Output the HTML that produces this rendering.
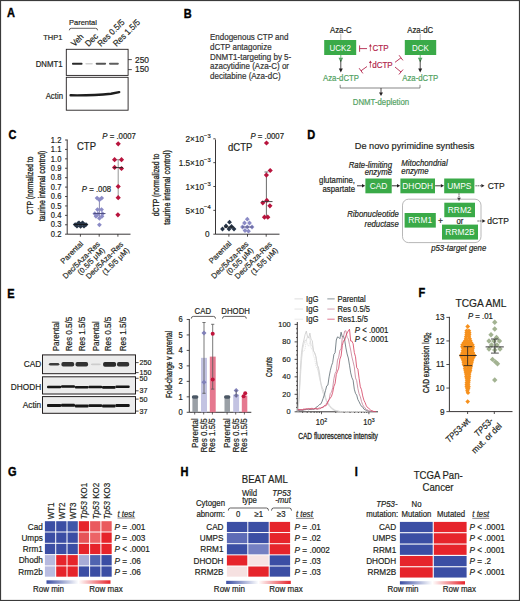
<!DOCTYPE html>
<html><head><meta charset="utf-8"><style>
html,body{margin:0;padding:0;background:#fff;}
body{width:520px;height:601px;overflow:hidden;}
svg{display:block;font-family:"Liberation Sans", sans-serif;}
</style></head><body>
<svg width="520" height="601" viewBox="0 0 520 601">
<rect x="0" y="0" width="520" height="601" fill="#fff"/>
<text x="0.00" y="0.00" font-size="11" text-anchor="start" fill="#000" stroke="#000" stroke-width="0.35" font-weight="bold" transform="translate(7.00,16.70) scale(1,1.08)">A</text>
<text x="0.00" y="0.00" font-size="7.5" text-anchor="start" fill="#231f20" stroke="#231f20" stroke-width="0.18" transform="translate(43.20,39.90) scale(1,1.08)">THP1</text>
<text x="0.00" y="0.00" font-size="7.5" text-anchor="start" fill="#231f20" stroke="#231f20" stroke-width="0.18" transform="translate(69.00,25.10) scale(1,1.08)">Parental</text>
<path d="M69.3,30.3 Q69.3,28.3 71.3,28.3 L95.6,28.3 Q97.6,28.3 97.6,30.3" fill="none" stroke="#231f20" stroke-width="0.7"/>
<text x="0.00" y="0.00" font-size="8" text-anchor="start" fill="#231f20" stroke="#231f20" stroke-width="0.18" transform="translate(74.50,47.00) rotate(-45) scale(1,1.08)">Veh</text>
<text x="0.00" y="0.00" font-size="8" text-anchor="start" fill="#231f20" stroke="#231f20" stroke-width="0.18" transform="translate(88.50,47.00) rotate(-45) scale(1,1.08)">Dec</text>
<text x="0.00" y="0.00" font-size="8" text-anchor="start" fill="#231f20" stroke="#231f20" stroke-width="0.18" transform="translate(101.00,47.00) rotate(-45) scale(1,1.08)">Res 0.5/5</text>
<text x="0.00" y="0.00" font-size="8" text-anchor="start" fill="#231f20" stroke="#231f20" stroke-width="0.18" transform="translate(116.50,47.00) rotate(-45) scale(1,1.08)">Res 1.5/5</text>
<rect x="66.30" y="49.30" width="61.80" height="26.10" fill="#fff" stroke="#231f20" stroke-width="0.9"/>
<rect x="66.30" y="77.30" width="61.80" height="32.90" fill="#fff" stroke="#231f20" stroke-width="0.9"/>
<text x="0.00" y="0.00" font-size="7.8" text-anchor="end" fill="#231f20" stroke="#231f20" stroke-width="0.18" transform="translate(62.50,67.00) scale(1,1.08)">DNMT1</text>
<text x="0.00" y="0.00" font-size="7.8" text-anchor="end" fill="#231f20" stroke="#231f20" stroke-width="0.18" transform="translate(63.00,98.50) scale(1,1.08)">Actin</text>
<rect x="72" y="62.7" width="10.5" height="2.0" rx="0.8" fill="#2a2a2a"/>
<rect x="85.3" y="62.900000000000006" width="7.5" height="1.6" rx="0.8" fill="#d2d2d2"/>
<rect x="95.7" y="62.75" width="10.399999999999991" height="1.9" rx="0.8" fill="#555"/>
<rect x="109" y="62.75" width="9.799999999999997" height="1.9" rx="0.8" fill="#5e5e5e"/>
<path d="M70.6,95.3 C85,95.5 100,94.9 111,93.8 L119.2,92.1" fill="none" stroke="#1e1e1e" stroke-width="2.4" stroke-linecap="round"/>
<line x1="128.20" y1="59.60" x2="131.80" y2="59.60" stroke="#231f20" stroke-width="0.8"/>
<text x="0.00" y="0.00" font-size="8.4" text-anchor="start" fill="#231f20" stroke="#231f20" stroke-width="0.18" transform="translate(135.00,62.50) scale(1,1.08)">250</text>
<line x1="128.20" y1="69.60" x2="131.80" y2="69.60" stroke="#231f20" stroke-width="0.8"/>
<text x="0.00" y="0.00" font-size="8.4" text-anchor="start" fill="#231f20" stroke="#231f20" stroke-width="0.18" transform="translate(135.00,72.40) scale(1,1.08)">150</text>
<text x="0.00" y="0.00" font-size="11" text-anchor="start" fill="#000" stroke="#000" stroke-width="0.35" font-weight="bold" transform="translate(183.80,18.00) scale(1,1.08)">B</text>
<text x="0.00" y="0.00" font-size="8" text-anchor="start" fill="#333" stroke="#333" stroke-width="0.18" transform="translate(210.00,40.40) scale(1,1.08)">Endogenous CTP and</text>
<text x="0.00" y="0.00" font-size="8" text-anchor="start" fill="#333" stroke="#333" stroke-width="0.18" transform="translate(210.00,50.00) scale(1,1.08)">dCTP antagonize</text>
<text x="0.00" y="0.00" font-size="8" text-anchor="start" fill="#333" stroke="#333" stroke-width="0.18" transform="translate(210.00,59.60) scale(1,1.08)">DNMT1-targeting by 5-</text>
<text x="0.00" y="0.00" font-size="8" text-anchor="start" fill="#333" stroke="#333" stroke-width="0.18" transform="translate(210.00,69.20) scale(1,1.08)">azacytidine (Aza-C) or</text>
<text x="0.00" y="0.00" font-size="8" text-anchor="start" fill="#333" stroke="#333" stroke-width="0.18" transform="translate(210.00,78.80) scale(1,1.08)">decitabine (Aza-dC)</text>
<text x="0.00" y="0.00" font-size="7.8" text-anchor="middle" fill="#231f20" stroke="#231f20" stroke-width="0.18" transform="translate(340.80,32.70) scale(1,1.08)">Aza-C</text>
<text x="0.00" y="0.00" font-size="7.8" text-anchor="middle" fill="#231f20" stroke="#231f20" stroke-width="0.18" transform="translate(420.20,32.70) scale(1,1.08)">Aza-dC</text>
<line x1="340.80" y1="34.00" x2="340.80" y2="40.00" stroke="#888" stroke-width="0.6"/>
<line x1="420.20" y1="34.00" x2="420.20" y2="40.00" stroke="#888" stroke-width="0.6"/>
<rect x="324.20" y="40.00" width="32.00" height="15.00" fill="#3aaa48" stroke="none" stroke-width="1"/>
<rect x="404.80" y="40.00" width="31.40" height="15.00" fill="#3aaa48" stroke="none" stroke-width="1"/>
<text x="0.00" y="0.00" font-size="8" text-anchor="middle" fill="#fff" transform="translate(340.20,50.80) scale(1,1.08)">UCK2</text>
<text x="0.00" y="0.00" font-size="8" text-anchor="middle" fill="#fff" transform="translate(420.50,50.80) scale(1,1.08)">DCK</text>
<line x1="340.80" y1="55.00" x2="340.80" y2="59.00" stroke="#52a262" stroke-width="0.8"/>
<path d="M338.5,57.8 L343.1,57.8 L340.8,62.6 Z" fill="#52a262" stroke="none" stroke-width="0.8"/>
<line x1="340.80" y1="60.00" x2="340.80" y2="70.00" stroke="#231f20" stroke-width="0.8"/>
<path d="M338.8,68.5 L342.8,68.5 L340.8,72.5 Z" fill="#231f20" stroke="none" stroke-width="0.8"/>
<line x1="420.20" y1="55.00" x2="420.20" y2="59.00" stroke="#52a262" stroke-width="0.8"/>
<path d="M417.9,57.8 L422.5,57.8 L420.2,62.6 Z" fill="#52a262" stroke="none" stroke-width="0.8"/>
<line x1="420.20" y1="60.00" x2="420.20" y2="70.00" stroke="#231f20" stroke-width="0.8"/>
<path d="M418.2,68.5 L422.2,68.5 L420.2,72.5 Z" fill="#231f20" stroke="none" stroke-width="0.8"/>
<text x="0.00" y="0.00" font-size="7.8" text-anchor="middle" fill="#52a262" stroke="#52a262" stroke-width="0.18" transform="translate(341.00,81.00) scale(1,1.08)">Aza-dCTP</text>
<text x="0.00" y="0.00" font-size="7.8" text-anchor="middle" fill="#52a262" stroke="#52a262" stroke-width="0.18" transform="translate(420.20,81.00) scale(1,1.08)">Aza-dCTP</text>
<path d="M340.2,84.8 V88 H420 V84.8" fill="none" stroke="#555" stroke-width="0.7"/>
<line x1="381.00" y1="88.00" x2="381.00" y2="93.00" stroke="#231f20" stroke-width="0.8"/>
<path d="M379,92.5 L383,92.5 L381,96 Z" fill="#231f20" stroke="none" stroke-width="0.8"/>
<text x="0.00" y="0.00" font-size="7.8" text-anchor="middle" fill="#52a262" stroke="#52a262" stroke-width="0.18" transform="translate(381.00,104.60) scale(1,1.08)">DNMT-depletion</text>
<line x1="359.60" y1="48.60" x2="367.00" y2="48.60" stroke="#b3274d" stroke-width="0.9"/>
<line x1="359.60" y1="45.40" x2="359.60" y2="51.80" stroke="#b3274d" stroke-width="0.9"/>
<line x1="370.40" y1="51.20" x2="370.40" y2="45.60" stroke="#b3274d" stroke-width="0.7"/>
<path d="M368.9,46.6 L370.4,44.0 L371.9,46.6 Z" fill="#b3274d" stroke="none" stroke-width="0.8"/>
<text x="0.00" y="0.00" font-size="8" text-anchor="start" fill="#b3274d" stroke="#b3274d" stroke-width="0.18" transform="translate(372.60,51.30) scale(1,1.08)">CTP</text>
<line x1="370.40" y1="67.60" x2="370.40" y2="62.00" stroke="#b3274d" stroke-width="0.7"/>
<path d="M368.9,63.0 L370.4,60.4 L371.9,63.0 Z" fill="#b3274d" stroke="none" stroke-width="0.8"/>
<text x="0.00" y="0.00" font-size="8" text-anchor="start" fill="#b3274d" stroke="#b3274d" stroke-width="0.18" transform="translate(372.20,67.60) scale(1,1.08)">dCTP</text>
<line x1="367.00" y1="66.50" x2="361.00" y2="70.80" stroke="#b3274d" stroke-width="0.9"/>
<line x1="362.86" y1="73.40" x2="359.14" y2="68.20" stroke="#b3274d" stroke-width="0.9"/>
<line x1="395.00" y1="62.30" x2="401.00" y2="57.80" stroke="#b3274d" stroke-width="0.9"/>
<line x1="399.08" y1="55.24" x2="402.92" y2="60.36" stroke="#b3274d" stroke-width="0.9"/>
<line x1="395.00" y1="67.00" x2="401.00" y2="72.00" stroke="#b3274d" stroke-width="0.9"/>
<line x1="403.05" y1="69.54" x2="398.95" y2="74.46" stroke="#b3274d" stroke-width="0.9"/>
<text x="0.00" y="0.00" font-size="11" text-anchor="start" fill="#000" stroke="#000" stroke-width="0.35" font-weight="bold" transform="translate(8.50,139.00) scale(1,1.08)">C</text>
<line x1="67.20" y1="139.50" x2="67.20" y2="234.20" stroke="#231f20" stroke-width="0.9"/>
<line x1="65.00" y1="234.20" x2="67.20" y2="234.20" stroke="#231f20" stroke-width="0.8"/>
<text x="0.00" y="0.00" font-size="7.6" text-anchor="end" fill="#231f20" stroke="#231f20" stroke-width="0.18" transform="translate(61.40,236.90) scale(1,1.08)">0.2</text>
<line x1="65.00" y1="224.78" x2="67.20" y2="224.78" stroke="#231f20" stroke-width="0.8"/>
<text x="0.00" y="0.00" font-size="7.6" text-anchor="end" fill="#231f20" stroke="#231f20" stroke-width="0.18" transform="translate(61.40,227.48) scale(1,1.08)">0.3</text>
<line x1="65.00" y1="215.36" x2="67.20" y2="215.36" stroke="#231f20" stroke-width="0.8"/>
<text x="0.00" y="0.00" font-size="7.6" text-anchor="end" fill="#231f20" stroke="#231f20" stroke-width="0.18" transform="translate(61.40,218.06) scale(1,1.08)">0.4</text>
<line x1="65.00" y1="205.94" x2="67.20" y2="205.94" stroke="#231f20" stroke-width="0.8"/>
<text x="0.00" y="0.00" font-size="7.6" text-anchor="end" fill="#231f20" stroke="#231f20" stroke-width="0.18" transform="translate(61.40,208.64) scale(1,1.08)">0.5</text>
<line x1="65.00" y1="196.52" x2="67.20" y2="196.52" stroke="#231f20" stroke-width="0.8"/>
<text x="0.00" y="0.00" font-size="7.6" text-anchor="end" fill="#231f20" stroke="#231f20" stroke-width="0.18" transform="translate(61.40,199.22) scale(1,1.08)">0.6</text>
<line x1="65.00" y1="187.10" x2="67.20" y2="187.10" stroke="#231f20" stroke-width="0.8"/>
<text x="0.00" y="0.00" font-size="7.6" text-anchor="end" fill="#231f20" stroke="#231f20" stroke-width="0.18" transform="translate(61.40,189.80) scale(1,1.08)">0.7</text>
<line x1="65.00" y1="177.68" x2="67.20" y2="177.68" stroke="#231f20" stroke-width="0.8"/>
<text x="0.00" y="0.00" font-size="7.6" text-anchor="end" fill="#231f20" stroke="#231f20" stroke-width="0.18" transform="translate(61.40,180.38) scale(1,1.08)">0.8</text>
<line x1="65.00" y1="168.26" x2="67.20" y2="168.26" stroke="#231f20" stroke-width="0.8"/>
<text x="0.00" y="0.00" font-size="7.6" text-anchor="end" fill="#231f20" stroke="#231f20" stroke-width="0.18" transform="translate(61.40,170.96) scale(1,1.08)">0.9</text>
<line x1="65.00" y1="158.84" x2="67.20" y2="158.84" stroke="#231f20" stroke-width="0.8"/>
<text x="0.00" y="0.00" font-size="7.6" text-anchor="end" fill="#231f20" stroke="#231f20" stroke-width="0.18" transform="translate(61.40,161.54) scale(1,1.08)">1.0</text>
<line x1="65.00" y1="149.42" x2="67.20" y2="149.42" stroke="#231f20" stroke-width="0.8"/>
<text x="0.00" y="0.00" font-size="7.6" text-anchor="end" fill="#231f20" stroke="#231f20" stroke-width="0.18" transform="translate(61.40,152.12) scale(1,1.08)">1.1</text>
<line x1="65.00" y1="140.00" x2="67.20" y2="140.00" stroke="#231f20" stroke-width="0.8"/>
<text x="0.00" y="0.00" font-size="7.6" text-anchor="end" fill="#231f20" stroke="#231f20" stroke-width="0.18" transform="translate(61.40,142.70) scale(1,1.08)">1.2</text>
<line x1="67.20" y1="234.20" x2="130.50" y2="234.20" stroke="#231f20" stroke-width="0.9"/>
<line x1="80.40" y1="234.20" x2="80.40" y2="236.70" stroke="#231f20" stroke-width="0.8"/>
<line x1="99.20" y1="234.20" x2="99.20" y2="236.70" stroke="#231f20" stroke-width="0.8"/>
<line x1="117.90" y1="234.20" x2="117.90" y2="236.70" stroke="#231f20" stroke-width="0.8"/>
<text x="0.00" y="0.00" font-size="9.5" text-anchor="start" fill="#231f20" stroke="#231f20" stroke-width="0.18" transform="translate(77.00,150.40) scale(1,1.08)">CTP</text>
<text x="0.00" y="0.00" font-size="8" text-anchor="start" fill="#231f20" stroke="#231f20" stroke-width="0.18" transform="translate(102.30,138.50) scale(1,1.08)"></text>
<text x="0.00" y="0.00" font-size="7.8" text-anchor="start" fill="#231f20" stroke="#231f20" stroke-width="0.18" transform="translate(102.30,138.50) scale(1,1.08)"><tspan font-style="italic">P</tspan> = .0007</text>
<text x="0.00" y="0.00" font-size="7.8" text-anchor="start" fill="#231f20" stroke="#231f20" stroke-width="0.18" transform="translate(81.80,192.30) scale(1,1.08)"><tspan font-style="italic">P</tspan> = .008</text>
<line x1="118.20" y1="159.70" x2="118.20" y2="197.60" stroke="#7a7a7a" stroke-width="0.8"/>
<line x1="116.50" y1="159.70" x2="119.90" y2="159.70" stroke="#7a7a7a" stroke-width="0.8"/>
<path d="M118.20,141.20L120.80,143.80L118.20,146.40L115.60,143.80Z" fill="#b8143d"/>
<path d="M114.60,157.10L117.20,159.70L114.60,162.30L112.00,159.70Z" fill="#b8143d"/>
<path d="M121.50,157.10L124.10,159.70L121.50,162.30L118.90,159.70Z" fill="#b8143d"/>
<path d="M114.60,164.80L117.20,167.40L114.60,170.00L112.00,167.40Z" fill="#b8143d"/>
<path d="M121.50,165.90L124.10,168.50L121.50,171.10L118.90,168.50Z" fill="#b8143d"/>
<path d="M118.20,183.90L120.80,186.50L118.20,189.10L115.60,186.50Z" fill="#b8143d"/>
<path d="M118.20,195.10L120.80,197.70L118.20,200.30L115.60,197.70Z" fill="#b8143d"/>
<path d="M117.90,212.20L120.50,214.80L117.90,217.40L115.30,214.80Z" fill="#b8143d"/>
<line x1="113.50" y1="167.60" x2="123.00" y2="167.60" stroke="#231f20" stroke-width="0.9"/>
<line x1="99.40" y1="199.00" x2="99.40" y2="218.00" stroke="#6a6a9a" stroke-width="0.8"/>
<path d="M97.10,195.70L99.50,198.10L97.10,200.50L94.70,198.10Z" fill="#8b8bc6"/>
<path d="M101.70,195.70L104.10,198.10L101.70,200.50L99.30,198.10Z" fill="#8b8bc6"/>
<path d="M99.40,197.40L101.80,199.80L99.40,202.20L97.00,199.80Z" fill="#8b8bc6"/>
<path d="M97.50,207.20L99.90,209.60L97.50,212.00L95.10,209.60Z" fill="#8b8bc6"/>
<path d="M101.50,207.20L103.90,209.60L101.50,212.00L99.10,209.60Z" fill="#8b8bc6"/>
<path d="M94.80,211.30L97.20,213.70L94.80,216.10L92.40,213.70Z" fill="#8b8bc6"/>
<path d="M98.00,211.60L100.40,214.00L98.00,216.40L95.60,214.00Z" fill="#8b8bc6"/>
<path d="M102.50,211.30L104.90,213.70L102.50,216.10L100.10,213.70Z" fill="#8b8bc6"/>
<path d="M96.00,213.90L98.40,216.30L96.00,218.70L93.60,216.30Z" fill="#8b8bc6"/>
<path d="M102.00,213.90L104.40,216.30L102.00,218.70L99.60,216.30Z" fill="#8b8bc6"/>
<path d="M99.40,215.90L101.80,218.30L99.40,220.70L97.00,218.30Z" fill="#8b8bc6"/>
<path d="M99.40,222.40L101.80,224.80L99.40,227.20L97.00,224.80Z" fill="#8b8bc6"/>
<line x1="93.50" y1="213.50" x2="105.50" y2="213.50" stroke="#4a4a7a" stroke-width="0.9"/>
<path d="M75.20,222.20L77.60,224.60L75.20,227.00L72.80,224.60Z" fill="#263447"/>
<path d="M78.00,221.20L80.40,223.60L78.00,226.00L75.60,223.60Z" fill="#263447"/>
<path d="M80.60,222.20L83.00,224.60L80.60,227.00L78.20,224.60Z" fill="#263447"/>
<path d="M83.00,221.20L85.40,223.60L83.00,226.00L80.60,223.60Z" fill="#263447"/>
<path d="M86.00,222.20L88.40,224.60L86.00,227.00L83.60,224.60Z" fill="#263447"/>
<path d="M77.00,223.80L79.40,226.20L77.00,228.60L74.60,226.20Z" fill="#263447"/>
<path d="M84.00,223.80L86.40,226.20L84.00,228.60L81.60,226.20Z" fill="#263447"/>
<path d="M80.60,224.00L83.00,226.40L80.60,228.80L78.20,226.40Z" fill="#263447"/>
<path d="M79.00,220.40L81.40,222.80L79.00,225.20L76.60,222.80Z" fill="#263447"/>
<path d="M82.50,220.40L84.90,222.80L82.50,225.20L80.10,222.80Z" fill="#263447"/>
<line x1="74.00" y1="224.50" x2="87.50" y2="224.50" stroke="#111" stroke-width="0.8"/>
<text x="0.00" y="0.00" font-size="9.5" text-anchor="middle" fill="#231f20" stroke="#231f20" stroke-width="0.32" transform="translate(32.60,185.50) rotate(-90) scale(0.71,1.0)">CTP (normalized to</text>
<text x="0.00" y="0.00" font-size="9.5" text-anchor="middle" fill="#231f20" stroke="#231f20" stroke-width="0.32" transform="translate(44.80,186.00) rotate(-90) scale(0.73,1.0)">taurine internal control)</text>
<text x="0.00" y="0.00" font-size="7.6" text-anchor="end" fill="#231f20" stroke="#231f20" stroke-width="0.18" transform="translate(83.60,244.20) rotate(-45)">Parental</text>
<text x="0.00" y="0.00" font-size="7.6" text-anchor="end" fill="#231f20" stroke="#231f20" stroke-width="0.18" transform="translate(100.40,244.60) rotate(-45)">Dec/5Aza-Res</text>
<text x="0.00" y="0.00" font-size="7.6" text-anchor="end" fill="#231f20" stroke="#231f20" stroke-width="0.18" transform="translate(105.20,250.60) rotate(-45)">(0.5/5 μM)</text>
<text x="0.00" y="0.00" font-size="7.6" text-anchor="end" fill="#231f20" stroke="#231f20" stroke-width="0.18" transform="translate(123.60,244.80) rotate(-45)">Dec/5Aza-Res</text>
<text x="0.00" y="0.00" font-size="7.6" text-anchor="end" fill="#231f20" stroke="#231f20" stroke-width="0.18" transform="translate(129.80,250.80) rotate(-45)">(1.5/5 μM)</text>
<line x1="215.50" y1="139.50" x2="215.50" y2="234.20" stroke="#231f20" stroke-width="0.9"/>
<line x1="215.50" y1="234.20" x2="279.50" y2="234.20" stroke="#231f20" stroke-width="0.9"/>
<line x1="213.30" y1="138.80" x2="215.50" y2="138.80" stroke="#231f20" stroke-width="0.8"/>
<text x="0.00" y="0.00" font-size="8.2" text-anchor="end" fill="#231f20" stroke="#231f20" stroke-width="0.18" transform="translate(210.60,142.10) scale(1,1.08)">2×10<tspan dy="-3.9" font-size="5.8">−3</tspan></text>
<line x1="213.30" y1="162.65" x2="215.50" y2="162.65" stroke="#231f20" stroke-width="0.8"/>
<text x="0.00" y="0.00" font-size="8.2" text-anchor="end" fill="#231f20" stroke="#231f20" stroke-width="0.18" transform="translate(210.60,165.95) scale(1,1.08)">1.5×10<tspan dy="-3.9" font-size="5.8">−3</tspan></text>
<line x1="213.30" y1="186.50" x2="215.50" y2="186.50" stroke="#231f20" stroke-width="0.8"/>
<text x="0.00" y="0.00" font-size="8.2" text-anchor="end" fill="#231f20" stroke="#231f20" stroke-width="0.18" transform="translate(210.60,189.80) scale(1,1.08)">1×10<tspan dy="-3.9" font-size="5.8">−3</tspan></text>
<line x1="213.30" y1="210.35" x2="215.50" y2="210.35" stroke="#231f20" stroke-width="0.8"/>
<text x="0.00" y="0.00" font-size="8.2" text-anchor="end" fill="#231f20" stroke="#231f20" stroke-width="0.18" transform="translate(210.60,213.65) scale(1,1.08)">5×10<tspan dy="-3.9" font-size="5.8">−4</tspan></text>
<line x1="213.30" y1="234.20" x2="215.50" y2="234.20" stroke="#231f20" stroke-width="0.8"/>
<text x="0.00" y="0.00" font-size="8.2" text-anchor="end" fill="#231f20" stroke="#231f20" stroke-width="0.18" transform="translate(209.60,237.30) scale(1,1.08)">0</text>
<line x1="228.90" y1="234.20" x2="228.90" y2="236.70" stroke="#231f20" stroke-width="0.8"/>
<line x1="247.50" y1="234.20" x2="247.50" y2="236.70" stroke="#231f20" stroke-width="0.8"/>
<line x1="266.20" y1="234.20" x2="266.20" y2="236.70" stroke="#231f20" stroke-width="0.8"/>
<text x="0.00" y="0.00" font-size="9.5" text-anchor="start" fill="#231f20" stroke="#231f20" stroke-width="0.18" transform="translate(228.00,150.80) scale(1,1.08)">dCTP</text>
<text x="0.00" y="0.00" font-size="7.8" text-anchor="start" fill="#231f20" stroke="#231f20" stroke-width="0.18" transform="translate(250.40,138.50) scale(1,1.08)"><tspan font-style="italic">P</tspan> = .0007</text>
<line x1="266.40" y1="172.50" x2="266.40" y2="216.50" stroke="#444" stroke-width="0.8"/>
<line x1="264.50" y1="172.00" x2="268.30" y2="172.00" stroke="#444" stroke-width="0.8"/>
<path d="M266.50,140.40L269.10,143.00L266.50,145.60L263.90,143.00Z" fill="#b8143d"/>
<path d="M270.20,167.90L272.80,170.50L270.20,173.10L267.60,170.50Z" fill="#b8143d"/>
<path d="M266.40,172.50L269.00,175.10L266.40,177.70L263.80,175.10Z" fill="#b8143d"/>
<path d="M262.80,200.20L265.40,202.80L262.80,205.40L260.20,202.80Z" fill="#b8143d"/>
<path d="M266.80,197.80L269.40,200.40L266.80,203.00L264.20,200.40Z" fill="#b8143d"/>
<path d="M269.90,203.20L272.50,205.80L269.90,208.40L267.30,205.80Z" fill="#b8143d"/>
<path d="M264.50,214.60L267.10,217.20L264.50,219.80L261.90,217.20Z" fill="#b8143d"/>
<path d="M267.80,214.60L270.40,217.20L267.80,219.80L265.20,217.20Z" fill="#b8143d"/>
<line x1="261.50" y1="201.60" x2="272.50" y2="201.60" stroke="#333" stroke-width="0.9"/>
<path d="M229.50,219.80L231.90,222.20L229.50,224.60L227.10,222.20Z" fill="#263447"/>
<path d="M226.00,223.60L228.40,226.00L226.00,228.40L223.60,226.00Z" fill="#263447"/>
<path d="M231.50,224.10L233.90,226.50L231.50,228.90L229.10,226.50Z" fill="#263447"/>
<path d="M222.50,226.60L224.90,229.00L222.50,231.40L220.10,229.00Z" fill="#263447"/>
<path d="M229.00,226.60L231.40,229.00L229.00,231.40L226.60,229.00Z" fill="#263447"/>
<path d="M234.00,226.60L236.40,229.00L234.00,231.40L231.60,229.00Z" fill="#263447"/>
<line x1="224.00" y1="227.00" x2="234.00" y2="227.00" stroke="#111" stroke-width="0.8"/>
<path d="M247.30,216.80L249.70,219.20L247.30,221.60L244.90,219.20Z" fill="#8b8bc6"/>
<path d="M244.50,220.60L246.90,223.00L244.50,225.40L242.10,223.00Z" fill="#8b8bc6"/>
<path d="M249.50,220.60L251.90,223.00L249.50,225.40L247.10,223.00Z" fill="#8b8bc6"/>
<path d="M242.50,224.60L244.90,227.00L242.50,229.40L240.10,227.00Z" fill="#8b8bc6"/>
<path d="M247.30,224.60L249.70,227.00L247.30,229.40L244.90,227.00Z" fill="#8b8bc6"/>
<path d="M252.00,224.60L254.40,227.00L252.00,229.40L249.60,227.00Z" fill="#8b8bc6"/>
<path d="M245.00,228.10L247.40,230.50L245.00,232.90L242.60,230.50Z" fill="#8b8bc6"/>
<path d="M248.50,228.80L250.90,231.20L248.50,233.60L246.10,231.20Z" fill="#8b8bc6"/>
<line x1="242.00" y1="227.00" x2="253.00" y2="227.00" stroke="#4a4a7a" stroke-width="0.8"/>
<text x="0.00" y="0.00" font-size="9.5" text-anchor="middle" fill="#231f20" stroke="#231f20" stroke-width="0.32" transform="translate(158.80,185.00) rotate(-90) scale(0.72,1.0)">dCTP (normalized to</text>
<text x="0.00" y="0.00" font-size="9.5" text-anchor="middle" fill="#231f20" stroke="#231f20" stroke-width="0.32" transform="translate(170.20,187.50) rotate(-90) scale(0.77,1.0)">taurine internal control)</text>
<text x="0.00" y="0.00" font-size="7.6" text-anchor="end" fill="#231f20" stroke="#231f20" stroke-width="0.18" transform="translate(231.90,244.00) rotate(-45)">Parental</text>
<text x="0.00" y="0.00" font-size="7.6" text-anchor="end" fill="#231f20" stroke="#231f20" stroke-width="0.18" transform="translate(249.00,244.60) rotate(-45)">Dec/5Aza-Res</text>
<text x="0.00" y="0.00" font-size="7.6" text-anchor="end" fill="#231f20" stroke="#231f20" stroke-width="0.18" transform="translate(253.80,250.60) rotate(-45)">(0.5/5 μM)</text>
<text x="0.00" y="0.00" font-size="7.6" text-anchor="end" fill="#231f20" stroke="#231f20" stroke-width="0.18" transform="translate(272.40,244.80) rotate(-45)">Dec/5Aza-Res</text>
<text x="0.00" y="0.00" font-size="7.6" text-anchor="end" fill="#231f20" stroke="#231f20" stroke-width="0.18" transform="translate(278.40,250.80) rotate(-45)">(1.5/5 μM)</text>
<text x="0.00" y="0.00" font-size="11" text-anchor="start" fill="#000" stroke="#000" stroke-width="0.35" font-weight="bold" transform="translate(307.30,138.80) scale(1,1.08)">D</text>
<text x="0.00" y="0.00" font-size="9.2" text-anchor="start" fill="#231f20" stroke="#231f20" stroke-width="0.18" transform="translate(354.80,149.00) scale(1,1.08)">De novo pyrimidine synthesis</text>
<text x="0.00" y="0.00" font-size="7.8" text-anchor="end" fill="#231f20" stroke="#231f20" stroke-width="0.18" font-style="italic" transform="translate(392.00,167.70) scale(1,1.08)">Rate-limiting</text>
<text x="0.00" y="0.00" font-size="7.8" text-anchor="end" fill="#231f20" stroke="#231f20" stroke-width="0.18" font-style="italic" transform="translate(392.00,174.50) scale(1,1.08)">enzyme</text>
<text x="0.00" y="0.00" font-size="7.8" text-anchor="start" fill="#231f20" stroke="#231f20" stroke-width="0.18" font-style="italic" transform="translate(401.30,166.30) scale(1,1.08)">Mitochondrial</text>
<text x="0.00" y="0.00" font-size="7.8" text-anchor="start" fill="#231f20" stroke="#231f20" stroke-width="0.18" font-style="italic" transform="translate(401.30,174.00) scale(1,1.08)">enzyme</text>
<text x="0.00" y="0.00" font-size="7.8" text-anchor="end" fill="#231f20" stroke="#231f20" stroke-width="0.18" transform="translate(355.00,183.00) scale(1,1.08)">glutamine,</text>
<text x="0.00" y="0.00" font-size="7.8" text-anchor="end" fill="#231f20" stroke="#231f20" stroke-width="0.18" transform="translate(355.00,192.30) scale(1,1.08)">aspartate</text>
<rect x="365.40" y="178.50" width="26.30" height="14.80" fill="#3aaa48" stroke="none" stroke-width="1"/>
<text x="0.00" y="0.00" font-size="8.4" text-anchor="middle" fill="#fff" transform="translate(378.55,188.90) scale(1,1.08)">CAD</text>
<rect x="400.40" y="178.50" width="34.60" height="14.80" fill="#3aaa48" stroke="none" stroke-width="1"/>
<text x="0.00" y="0.00" font-size="8.4" text-anchor="middle" fill="#fff" transform="translate(417.70,188.90) scale(1,1.08)">DHODH</text>
<rect x="444.20" y="178.50" width="30.20" height="14.80" fill="#3aaa48" stroke="none" stroke-width="1"/>
<text x="0.00" y="0.00" font-size="8.4" text-anchor="middle" fill="#fff" transform="translate(459.30,188.90) scale(1,1.08)">UMPS</text>
<line x1="357.00" y1="185.80" x2="362.00" y2="185.80" stroke="#231f20" stroke-width="0.9"/>
<path d="M365.20,185.80 L362.00,187.60 L362.00,184.00 Z" fill="#231f20" stroke="none" stroke-width="0.8"/>
<line x1="391.80" y1="185.80" x2="397.00" y2="185.80" stroke="#231f20" stroke-width="0.9"/>
<path d="M400.20,185.80 L397.00,187.60 L397.00,184.00 Z" fill="#231f20" stroke="none" stroke-width="0.8"/>
<line x1="435.10" y1="185.80" x2="440.80" y2="185.80" stroke="#231f20" stroke-width="0.9"/>
<path d="M444.00,185.80 L440.80,187.60 L440.80,184.00 Z" fill="#231f20" stroke="none" stroke-width="0.8"/>
<line x1="475.50" y1="185.80" x2="481.30" y2="185.80" stroke="#231f20" stroke-width="0.9" stroke-dasharray="1.2,0.9"/>
<path d="M484.50,185.80 L481.30,187.60 L481.30,184.00 Z" fill="#231f20" stroke="none" stroke-width="0.8"/>
<text x="0.00" y="0.00" font-size="8.5" text-anchor="start" fill="#231f20" stroke="#231f20" stroke-width="0.18" transform="translate(487.70,188.90) scale(1,1.08)">CTP</text>
<line x1="459.00" y1="193.50" x2="459.00" y2="197.80" stroke="#231f20" stroke-width="0.9" stroke-dasharray="1.2,0.9"/>
<path d="M459.00,201.00 L457.20,197.80 L460.80,197.80 Z" fill="#231f20" stroke="none" stroke-width="0.8"/>
<rect x="402.5" y="199.2" width="78.5" height="43.4" rx="6" fill="none" stroke="#9a9a9a" stroke-width="0.7"/>
<text x="0.00" y="0.00" font-size="7.8" text-anchor="end" fill="#231f20" stroke="#231f20" stroke-width="0.18" font-style="italic" transform="translate(398.80,217.00) scale(1,1.08)">Ribonucleotide</text>
<text x="0.00" y="0.00" font-size="7.8" text-anchor="end" fill="#231f20" stroke="#231f20" stroke-width="0.18" font-style="italic" transform="translate(398.80,226.70) scale(1,1.08)">reductase</text>
<rect x="404.60" y="213.00" width="31.20" height="14.60" fill="#3aaa48" stroke="none" stroke-width="1"/>
<text x="0.00" y="0.00" font-size="8.4" text-anchor="middle" fill="#fff" transform="translate(420.20,223.30) scale(1,1.08)">RRM1</text>
<text x="0.00" y="0.00" font-size="8.5" text-anchor="middle" fill="#231f20" stroke="#231f20" stroke-width="0.18" transform="translate(440.40,223.60) scale(1,1.08)">+</text>
<rect x="444.30" y="202.70" width="30.70" height="14.50" fill="#3aaa48" stroke="none" stroke-width="1"/>
<text x="0.00" y="0.00" font-size="8.4" text-anchor="middle" fill="#fff" transform="translate(459.65,212.95) scale(1,1.08)">RRM2</text>
<text x="0.00" y="0.00" font-size="7.8" text-anchor="middle" fill="#231f20" stroke="#231f20" stroke-width="0.18" transform="translate(460.00,223.60) scale(1,1.08)">or</text>
<rect x="442.00" y="224.60" width="36.00" height="15.00" fill="#3aaa48" stroke="none" stroke-width="1"/>
<text x="0.00" y="0.00" font-size="8.4" text-anchor="middle" fill="#fff" transform="translate(460.00,235.10) scale(1,1.08)">RRM2B</text>
<line x1="477.50" y1="221.00" x2="482.30" y2="221.00" stroke="#231f20" stroke-width="0.9" stroke-dasharray="1.2,0.9"/>
<path d="M485.50,221.00 L482.30,222.80 L482.30,219.20 Z" fill="#231f20" stroke="none" stroke-width="0.8"/>
<text x="0.00" y="0.00" font-size="8.5" text-anchor="start" fill="#231f20" stroke="#231f20" stroke-width="0.18" transform="translate(487.20,224.00) scale(1,1.08)">dCTP</text>
<text x="0.00" y="0.00" font-size="7.8" text-anchor="start" fill="#231f20" stroke="#231f20" stroke-width="0.18" font-style="italic" transform="translate(431.20,250.50) scale(1,1.08)">p53-target gene</text>
<text x="0.00" y="0.00" font-size="11" text-anchor="start" fill="#000" stroke="#000" stroke-width="0.35" font-weight="bold" transform="translate(7.20,297.90) scale(1,1.08)">E</text>
<text x="0.00" y="0.00" font-size="8.1" text-anchor="start" fill="#231f20" stroke="#231f20" stroke-width="0.18" transform="translate(58.80,351.30) rotate(-90) scale(1,1.08)">Parental</text>
<text x="0.00" y="0.00" font-size="8.1" text-anchor="start" fill="#231f20" stroke="#231f20" stroke-width="0.18" transform="translate(71.50,351.30) rotate(-90) scale(1,1.08)">Res 0.5/5</text>
<text x="0.00" y="0.00" font-size="8.1" text-anchor="start" fill="#231f20" stroke="#231f20" stroke-width="0.18" transform="translate(84.80,351.30) rotate(-90) scale(1,1.08)">Res 1.5/5</text>
<text x="0.00" y="0.00" font-size="8.1" text-anchor="start" fill="#231f20" stroke="#231f20" stroke-width="0.18" transform="translate(98.90,351.30) rotate(-90) scale(1,1.08)">Parental</text>
<text x="0.00" y="0.00" font-size="8.1" text-anchor="start" fill="#231f20" stroke="#231f20" stroke-width="0.18" transform="translate(111.20,351.30) rotate(-90) scale(1,1.08)">Res 0.5/5</text>
<text x="0.00" y="0.00" font-size="8.1" text-anchor="start" fill="#231f20" stroke="#231f20" stroke-width="0.18" transform="translate(126.00,351.30) rotate(-90) scale(1,1.08)">Res 1.5/5</text>
<rect x="42.50" y="354.90" width="93.00" height="18.80" fill="#ececec" stroke="#231f20" stroke-width="1"/>
<rect x="42.50" y="376.80" width="93.00" height="17.20" fill="#ececec" stroke="#231f20" stroke-width="1"/>
<rect x="42.50" y="396.60" width="93.00" height="16.70" fill="#ececec" stroke="#231f20" stroke-width="1"/>
<text x="0.00" y="0.00" font-size="8.3" text-anchor="end" fill="#231f20" stroke="#231f20" stroke-width="0.18" transform="translate(41.20,366.80) scale(1,1.08)">CAD</text>
<text x="0.00" y="0.00" font-size="8.3" text-anchor="end" fill="#231f20" stroke="#231f20" stroke-width="0.18" transform="translate(41.20,390.00) scale(1,1.08)">DHODH</text>
<text x="0.00" y="0.00" font-size="8.3" text-anchor="end" fill="#231f20" stroke="#231f20" stroke-width="0.18" transform="translate(41.20,408.40) scale(1,1.08)">Actin</text>
<defs><filter id="bl" x="-20%" y="-100%" width="140%" height="300%"><feGaussianBlur stdDeviation="0.45"/></filter></defs>
<rect x="48.9" y="363.1" width="10.5" height="2.4" rx="1.8" fill="#3c3c3c" filter="url(#bl)"/>
<rect x="61.4" y="362.1" width="12.800000000000004" height="4.4" rx="1.8" fill="#333" filter="url(#bl)"/>
<rect x="75.5" y="362.1" width="12.599999999999994" height="4.4" rx="1.8" fill="#333" filter="url(#bl)"/>
<rect x="90.8" y="363.40000000000003" width="10.0" height="1.8" rx="1.8" fill="#cdcdcd" filter="url(#bl)"/>
<rect x="103.1" y="361.90000000000003" width="13.0" height="4.8" rx="1.8" fill="#2a2a2a" filter="url(#bl)"/>
<rect x="117" y="362.1" width="12.199999999999989" height="4.4" rx="1.8" fill="#333" filter="url(#bl)"/>
<rect x="47" y="385.65" width="14.200000000000003" height="2.5" rx="1" fill="#151515" filter="url(#bl)"/>
<rect x="61" y="385.15" width="14" height="2.7" rx="1" fill="#151515" filter="url(#bl)"/>
<rect x="74.8" y="385.95" width="13.799999999999997" height="2.5" rx="1" fill="#151515" filter="url(#bl)"/>
<rect x="88.4" y="385.85" width="13.799999999999997" height="2.3" rx="1" fill="#151515" filter="url(#bl)"/>
<rect x="102" y="386.09999999999997" width="13.599999999999994" height="2.6" rx="1" fill="#151515" filter="url(#bl)"/>
<rect x="115.4" y="385.54999999999995" width="14.299999999999983" height="2.5" rx="1" fill="#151515" filter="url(#bl)"/>
<rect x="47" y="404.05" width="14.200000000000003" height="2.9" rx="1" fill="#151515" filter="url(#bl)"/>
<rect x="61" y="403.85" width="14" height="2.9" rx="1" fill="#151515" filter="url(#bl)"/>
<rect x="74.8" y="404.4" width="13.799999999999997" height="3.0" rx="1" fill="#151515" filter="url(#bl)"/>
<rect x="88.4" y="404.3" width="13.799999999999997" height="2.8" rx="1" fill="#151515" filter="url(#bl)"/>
<rect x="102" y="404.5" width="13.599999999999994" height="3.0" rx="1" fill="#151515" filter="url(#bl)"/>
<rect x="115.4" y="404.05" width="14.299999999999983" height="2.9" rx="1" fill="#151515" filter="url(#bl)"/>
<line x1="135.50" y1="362.60" x2="138.60" y2="362.60" stroke="#231f20" stroke-width="0.8"/>
<text x="0.00" y="0.00" font-size="7.2" text-anchor="start" fill="#231f20" stroke="#231f20" stroke-width="0.18" transform="translate(139.60,365.10) scale(1,1.08)">250</text>
<line x1="135.50" y1="372.60" x2="138.60" y2="372.60" stroke="#231f20" stroke-width="0.8"/>
<text x="0.00" y="0.00" font-size="7.2" text-anchor="start" fill="#231f20" stroke="#231f20" stroke-width="0.18" transform="translate(139.60,375.10) scale(1,1.08)">150</text>
<line x1="135.50" y1="378.30" x2="138.60" y2="378.30" stroke="#231f20" stroke-width="0.8"/>
<text x="0.00" y="0.00" font-size="7.2" text-anchor="start" fill="#231f20" stroke="#231f20" stroke-width="0.18" transform="translate(139.60,380.80) scale(1,1.08)">50</text>
<line x1="135.50" y1="390.80" x2="138.60" y2="390.80" stroke="#231f20" stroke-width="0.8"/>
<text x="0.00" y="0.00" font-size="7.2" text-anchor="start" fill="#231f20" stroke="#231f20" stroke-width="0.18" transform="translate(139.60,393.30) scale(1,1.08)">37</text>
<line x1="135.50" y1="399.10" x2="138.60" y2="399.10" stroke="#231f20" stroke-width="0.8"/>
<text x="0.00" y="0.00" font-size="7.2" text-anchor="start" fill="#231f20" stroke="#231f20" stroke-width="0.18" transform="translate(139.60,401.60) scale(1,1.08)">50</text>
<line x1="135.50" y1="411.10" x2="138.60" y2="411.10" stroke="#231f20" stroke-width="0.8"/>
<text x="0.00" y="0.00" font-size="7.2" text-anchor="start" fill="#231f20" stroke="#231f20" stroke-width="0.18" transform="translate(139.60,413.60) scale(1,1.08)">37</text>
<line x1="189.30" y1="319.00" x2="189.30" y2="412.30" stroke="#231f20" stroke-width="0.9"/>
<line x1="189.30" y1="412.30" x2="251.30" y2="412.30" stroke="#231f20" stroke-width="0.9"/>
<line x1="186.70" y1="412.30" x2="189.30" y2="412.30" stroke="#231f20" stroke-width="0.8"/>
<text x="0.00" y="0.00" font-size="7.6" text-anchor="end" fill="#231f20" stroke="#231f20" stroke-width="0.18" transform="translate(182.80,415.00) scale(1,1.08)">0</text>
<line x1="186.70" y1="396.83" x2="189.30" y2="396.83" stroke="#231f20" stroke-width="0.8"/>
<text x="0.00" y="0.00" font-size="7.6" text-anchor="end" fill="#231f20" stroke="#231f20" stroke-width="0.18" transform="translate(182.80,399.53) scale(1,1.08)">1</text>
<line x1="186.70" y1="381.36" x2="189.30" y2="381.36" stroke="#231f20" stroke-width="0.8"/>
<text x="0.00" y="0.00" font-size="7.6" text-anchor="end" fill="#231f20" stroke="#231f20" stroke-width="0.18" transform="translate(182.80,384.06) scale(1,1.08)">2</text>
<line x1="186.70" y1="365.89" x2="189.30" y2="365.89" stroke="#231f20" stroke-width="0.8"/>
<text x="0.00" y="0.00" font-size="7.6" text-anchor="end" fill="#231f20" stroke="#231f20" stroke-width="0.18" transform="translate(182.80,368.59) scale(1,1.08)">3</text>
<line x1="186.70" y1="350.42" x2="189.30" y2="350.42" stroke="#231f20" stroke-width="0.8"/>
<text x="0.00" y="0.00" font-size="7.6" text-anchor="end" fill="#231f20" stroke="#231f20" stroke-width="0.18" transform="translate(182.80,353.12) scale(1,1.08)">4</text>
<line x1="186.70" y1="334.95" x2="189.30" y2="334.95" stroke="#231f20" stroke-width="0.8"/>
<text x="0.00" y="0.00" font-size="7.6" text-anchor="end" fill="#231f20" stroke="#231f20" stroke-width="0.18" transform="translate(182.80,337.65) scale(1,1.08)">5</text>
<line x1="186.70" y1="319.48" x2="189.30" y2="319.48" stroke="#231f20" stroke-width="0.8"/>
<text x="0.00" y="0.00" font-size="7.6" text-anchor="end" fill="#231f20" stroke="#231f20" stroke-width="0.18" transform="translate(182.80,322.18) scale(1,1.08)">6</text>
<rect x="192.40" y="396.83" width="5.50" height="15.47" fill="#9aa0a6" stroke="none" stroke-width="1"/>
<rect x="201.00" y="357.85" width="6.00" height="54.45" fill="#c3c3e2" stroke="none" stroke-width="1"/>
<rect x="209.80" y="356.61" width="5.90" height="55.69" fill="#e5788f" stroke="none" stroke-width="1"/>
<rect x="224.50" y="396.83" width="5.50" height="15.47" fill="#9aa0a6" stroke="none" stroke-width="1"/>
<rect x="233.20" y="394.51" width="5.90" height="17.79" fill="#c3c3e2" stroke="none" stroke-width="1"/>
<rect x="241.80" y="395.59" width="5.50" height="16.71" fill="#e5788f" stroke="none" stroke-width="1"/>
<line x1="204.00" y1="322.50" x2="204.00" y2="393.30" stroke="#555" stroke-width="0.8"/>
<line x1="202.40" y1="322.50" x2="205.60" y2="322.50" stroke="#555" stroke-width="0.8"/>
<line x1="202.40" y1="393.30" x2="205.60" y2="393.30" stroke="#555" stroke-width="0.8"/>
<line x1="212.70" y1="324.30" x2="212.70" y2="389.10" stroke="#555" stroke-width="0.8"/>
<line x1="211.10" y1="324.30" x2="214.30" y2="324.30" stroke="#555" stroke-width="0.8"/>
<line x1="211.10" y1="389.10" x2="214.30" y2="389.10" stroke="#555" stroke-width="0.8"/>
<circle cx="195.10" cy="397.00" r="1.8" fill="#4c5866"/>
<circle cx="193.60" cy="397.00" r="1.8" fill="#4c5866"/>
<circle cx="196.60" cy="397.00" r="1.8" fill="#4c5866"/>
<circle cx="227.20" cy="397.00" r="1.8" fill="#4c5866"/>
<circle cx="225.80" cy="397.00" r="1.8" fill="#4c5866"/>
<circle cx="228.60" cy="397.00" r="1.8" fill="#4c5866"/>
<path d="M204.00,330.40L206.50,332.90L204.00,335.40L201.50,332.90Z" fill="#8080b8"/>
<path d="M204.00,379.80L206.50,382.30L204.00,384.80L201.50,382.30Z" fill="#8080b8"/>
<path d="M236.20,388.10L238.70,390.60L236.20,393.10L233.70,390.60Z" fill="#8080b8"/>
<path d="M236.20,393.00L238.70,395.50L236.20,398.00L233.70,395.50Z" fill="#8080b8"/>
<circle cx="212.70" cy="333.80" r="2.0" fill="#c0143c"/>
<circle cx="212.70" cy="379.60" r="2.0" fill="#c0143c"/>
<circle cx="245.20" cy="393.30" r="2.0" fill="#c0143c"/>
<circle cx="243.60" cy="396.20" r="2.0" fill="#c0143c"/>
<line x1="236.20" y1="390.00" x2="236.20" y2="397.00" stroke="#555" stroke-width="0.7"/>
<text x="0.00" y="0.00" font-size="7.8" text-anchor="middle" fill="#231f20" stroke="#231f20" stroke-width="0.18" transform="translate(202.80,314.10) scale(1,1.08)">CAD</text>
<path d="M191.3,318.6 Q191.3,316.4 193.3,316.4 L213.5,316.4 Q215.5,316.4 215.5,318.6" fill="none" stroke="#231f20" stroke-width="0.7"/>
<text x="0.00" y="0.00" font-size="7.8" text-anchor="middle" fill="#231f20" stroke="#231f20" stroke-width="0.18" transform="translate(235.60,314.10) scale(1,1.08)">DHODH</text>
<path d="M222.5,318.6 Q222.5,316.4 224.5,316.4 L244.3,316.4 Q246.3,316.4 246.3,318.6" fill="none" stroke="#231f20" stroke-width="0.7"/>
<text x="0.00" y="0.00" font-size="9.5" text-anchor="middle" fill="#231f20" stroke="#231f20" stroke-width="0.32" transform="translate(172.00,364.40) rotate(-90) scale(0.69,1.0)">Fold-change v parental</text>
<text x="0.00" y="0.00" font-size="8" text-anchor="end" fill="#231f20" stroke="#231f20" stroke-width="0.18" transform="translate(197.50,418.20) rotate(-90) scale(1,1.08)">Parental</text>
<text x="0.00" y="0.00" font-size="8" text-anchor="end" fill="#231f20" stroke="#231f20" stroke-width="0.18" transform="translate(206.50,418.20) rotate(-90) scale(1,1.08)">Res 0.5/5</text>
<text x="0.00" y="0.00" font-size="8" text-anchor="end" fill="#231f20" stroke="#231f20" stroke-width="0.18" transform="translate(215.20,418.20) rotate(-90) scale(1,1.08)">Res 1.5/5</text>
<text x="0.00" y="0.00" font-size="8" text-anchor="end" fill="#231f20" stroke="#231f20" stroke-width="0.18" transform="translate(229.90,418.20) rotate(-90) scale(1,1.08)">Parental</text>
<text x="0.00" y="0.00" font-size="8" text-anchor="end" fill="#231f20" stroke="#231f20" stroke-width="0.18" transform="translate(238.50,418.20) rotate(-90) scale(1,1.08)">Res 0.5/5</text>
<text x="0.00" y="0.00" font-size="8" text-anchor="end" fill="#231f20" stroke="#231f20" stroke-width="0.18" transform="translate(247.20,418.20) rotate(-90) scale(1,1.08)">Res 1.5/5</text>
<line x1="194.70" y1="412.30" x2="194.70" y2="414.50" stroke="#231f20" stroke-width="0.7"/>
<line x1="203.70" y1="412.30" x2="203.70" y2="414.50" stroke="#231f20" stroke-width="0.7"/>
<line x1="212.40" y1="412.30" x2="212.40" y2="414.50" stroke="#231f20" stroke-width="0.7"/>
<line x1="227.10" y1="412.30" x2="227.10" y2="414.50" stroke="#231f20" stroke-width="0.7"/>
<line x1="235.70" y1="412.30" x2="235.70" y2="414.50" stroke="#231f20" stroke-width="0.7"/>
<line x1="244.40" y1="412.30" x2="244.40" y2="414.50" stroke="#231f20" stroke-width="0.7"/>
<line x1="297.30" y1="322.00" x2="297.30" y2="411.80" stroke="#231f20" stroke-width="0.9"/>
<line x1="297.30" y1="411.80" x2="378.00" y2="411.80" stroke="#231f20" stroke-width="0.9"/>
<line x1="294.60" y1="411.80" x2="297.30" y2="411.80" stroke="#231f20" stroke-width="0.8"/>
<line x1="296.10" y1="407.43" x2="297.30" y2="407.43" stroke="#231f20" stroke-width="0.8"/>
<line x1="296.10" y1="403.06" x2="297.30" y2="403.06" stroke="#231f20" stroke-width="0.8"/>
<line x1="296.10" y1="398.69" x2="297.30" y2="398.69" stroke="#231f20" stroke-width="0.8"/>
<line x1="294.60" y1="394.32" x2="297.30" y2="394.32" stroke="#231f20" stroke-width="0.8"/>
<line x1="296.10" y1="389.95" x2="297.30" y2="389.95" stroke="#231f20" stroke-width="0.8"/>
<line x1="296.10" y1="385.58" x2="297.30" y2="385.58" stroke="#231f20" stroke-width="0.8"/>
<line x1="296.10" y1="381.21" x2="297.30" y2="381.21" stroke="#231f20" stroke-width="0.8"/>
<line x1="294.60" y1="376.84" x2="297.30" y2="376.84" stroke="#231f20" stroke-width="0.8"/>
<line x1="296.10" y1="372.47" x2="297.30" y2="372.47" stroke="#231f20" stroke-width="0.8"/>
<line x1="296.10" y1="368.10" x2="297.30" y2="368.10" stroke="#231f20" stroke-width="0.8"/>
<line x1="296.10" y1="363.73" x2="297.30" y2="363.73" stroke="#231f20" stroke-width="0.8"/>
<line x1="294.60" y1="359.36" x2="297.30" y2="359.36" stroke="#231f20" stroke-width="0.8"/>
<line x1="296.10" y1="354.99" x2="297.30" y2="354.99" stroke="#231f20" stroke-width="0.8"/>
<line x1="296.10" y1="350.62" x2="297.30" y2="350.62" stroke="#231f20" stroke-width="0.8"/>
<line x1="296.10" y1="346.25" x2="297.30" y2="346.25" stroke="#231f20" stroke-width="0.8"/>
<line x1="294.60" y1="341.88" x2="297.30" y2="341.88" stroke="#231f20" stroke-width="0.8"/>
<line x1="296.10" y1="337.51" x2="297.30" y2="337.51" stroke="#231f20" stroke-width="0.8"/>
<line x1="296.10" y1="333.14" x2="297.30" y2="333.14" stroke="#231f20" stroke-width="0.8"/>
<line x1="296.10" y1="328.77" x2="297.30" y2="328.77" stroke="#231f20" stroke-width="0.8"/>
<line x1="294.60" y1="324.40" x2="297.30" y2="324.40" stroke="#231f20" stroke-width="0.8"/>
<text x="0.00" y="0.00" font-size="7.4" text-anchor="end" fill="#231f20" stroke="#231f20" stroke-width="0.18" transform="translate(290.60,414.30) scale(1,1.08)">0</text>
<text x="0.00" y="0.00" font-size="7.4" text-anchor="end" fill="#231f20" stroke="#231f20" stroke-width="0.18" transform="translate(290.60,396.82) scale(1,1.08)">20</text>
<text x="0.00" y="0.00" font-size="7.4" text-anchor="end" fill="#231f20" stroke="#231f20" stroke-width="0.18" transform="translate(290.60,379.34) scale(1,1.08)">40</text>
<text x="0.00" y="0.00" font-size="7.4" text-anchor="end" fill="#231f20" stroke="#231f20" stroke-width="0.18" transform="translate(290.60,361.86) scale(1,1.08)">60</text>
<text x="0.00" y="0.00" font-size="7.4" text-anchor="end" fill="#231f20" stroke="#231f20" stroke-width="0.18" transform="translate(290.60,344.38) scale(1,1.08)">80</text>
<text x="0.00" y="0.00" font-size="7.4" text-anchor="end" fill="#231f20" stroke="#231f20" stroke-width="0.18" transform="translate(290.60,326.90) scale(1,1.08)">100</text>
<line x1="302.64" y1="411.80" x2="302.64" y2="413.00" stroke="#231f20" stroke-width="0.7"/>
<line x1="307.23" y1="411.80" x2="307.23" y2="413.00" stroke="#231f20" stroke-width="0.7"/>
<line x1="310.98" y1="411.80" x2="310.98" y2="413.00" stroke="#231f20" stroke-width="0.7"/>
<line x1="314.16" y1="411.80" x2="314.16" y2="413.00" stroke="#231f20" stroke-width="0.7"/>
<line x1="316.91" y1="411.80" x2="316.91" y2="413.00" stroke="#231f20" stroke-width="0.7"/>
<line x1="319.33" y1="411.80" x2="319.33" y2="413.00" stroke="#231f20" stroke-width="0.7"/>
<line x1="321.50" y1="411.80" x2="321.50" y2="414.20" stroke="#231f20" stroke-width="0.7"/>
<line x1="335.77" y1="411.80" x2="335.77" y2="413.00" stroke="#231f20" stroke-width="0.7"/>
<line x1="344.12" y1="411.80" x2="344.12" y2="413.00" stroke="#231f20" stroke-width="0.7"/>
<line x1="350.04" y1="411.80" x2="350.04" y2="413.00" stroke="#231f20" stroke-width="0.7"/>
<line x1="354.63" y1="411.80" x2="354.63" y2="413.00" stroke="#231f20" stroke-width="0.7"/>
<line x1="358.38" y1="411.80" x2="358.38" y2="413.00" stroke="#231f20" stroke-width="0.7"/>
<line x1="361.56" y1="411.80" x2="361.56" y2="413.00" stroke="#231f20" stroke-width="0.7"/>
<line x1="364.31" y1="411.80" x2="364.31" y2="413.00" stroke="#231f20" stroke-width="0.7"/>
<line x1="366.73" y1="411.80" x2="366.73" y2="413.00" stroke="#231f20" stroke-width="0.7"/>
<line x1="368.90" y1="411.80" x2="368.90" y2="414.20" stroke="#231f20" stroke-width="0.7"/>
<text x="0.00" y="0.00" font-size="7.6" text-anchor="middle" fill="#231f20" stroke="#231f20" stroke-width="0.18" transform="translate(321.50,425.00) scale(1,1.08)">10<tspan dy="-3" font-size="5.2">2</tspan></text>
<text x="0.00" y="0.00" font-size="7.6" text-anchor="middle" fill="#231f20" stroke="#231f20" stroke-width="0.18" transform="translate(368.90,425.00) scale(1,1.08)">10<tspan dy="-3" font-size="5.2">3</tspan></text>
<text x="0.00" y="0.00" font-size="9.5" text-anchor="middle" fill="#231f20" stroke="#231f20" stroke-width="0.32" transform="translate(338.00,439.30) scale(0.7,1.0)">CAD fluorescence intensity</text>
<text x="0.00" y="0.00" font-size="9.5" text-anchor="middle" fill="#231f20" stroke="#231f20" stroke-width="0.32" transform="translate(272.00,367.00) rotate(-90) scale(0.66,1.0)">Counts</text>
<path d="M297.9,411.5 L299.1,395.7 L300.3,369.7 L301.5,352.6 L302.7,344.7 L303.9,340.0 L305.1,334.5 L306.3,331.1 L307.5,336.7 L308.7,338.1 L309.9,333.1 L311.1,339.5 L312.3,340.6 L313.5,351.1 L314.7,352.8 L315.9,356.4 L317.1,365.3 L318.3,366.8 L319.5,372.8 L320.7,382.3 L321.9,387.0 L323.1,389.4 L324.3,392.2 L325.5,397.4 L326.7,400.7 L327.9,402.7 L329.1,405.4 L330.3,406.7 L331.5,407.8 L332.7,408.8 L333.9,409.8 L335.1,410.3 L336.3,410.8 L337.5,411.0 L338.7,411.3 L339.9,411.5 L341.1,411.5 L342.3,411.5 L343.5,411.5 L344.7,411.5 L345.9,411.5 L347.1,411.5 L348.3,411.5 L349.5,411.5 L350.7,411.5 L351.9,411.5 L353.1,411.5 L354.3,411.5 L355.5,411.5 L356.7,411.5 L357.9,411.5 L359.1,411.5 L360.3,411.5 L361.5,411.5 L362.7,411.5 L363.9,411.5 L365.1,411.5 L366.3,411.5 L367.5,411.5 L368.7,411.5 L369.9,411.5 L371.1,411.5 L372.3,411.5 L373.5,411.5 L374.7,411.5 L375.9,411.5" fill="none" stroke="#c4c4c4" stroke-width="0.7"/>
<path d="M297.9,411.5 L299.1,397.4 L300.3,378.2 L301.5,360.2 L302.7,348.6 L303.9,343.9 L305.1,340.2 L306.3,340.5 L307.5,336.6 L308.7,336.9 L309.9,338.6 L311.1,344.7 L312.3,346.0 L313.5,350.6 L314.7,353.1 L315.9,356.8 L317.1,363.0 L318.3,371.2 L319.5,377.3 L320.7,383.3 L321.9,389.0 L323.1,393.2 L324.3,395.5 L325.5,399.2 L326.7,401.8 L327.9,403.2 L329.1,405.7 L330.3,407.2 L331.5,408.8 L332.7,409.8 L333.9,410.2 L335.1,410.8 L336.3,411.0 L337.5,411.1 L338.7,411.4 L339.9,411.5 L341.1,411.5 L342.3,411.5 L343.5,411.5 L344.7,411.5 L345.9,411.5 L347.1,411.5 L348.3,411.5 L349.5,411.5 L350.7,411.5 L351.9,411.5 L353.1,411.5 L354.3,411.5 L355.5,411.5 L356.7,411.5 L357.9,411.5 L359.1,411.5 L360.3,411.5 L361.5,411.5 L362.7,411.5 L363.9,411.5 L365.1,411.5 L366.3,411.5 L367.5,411.5 L368.7,411.5 L369.9,411.5 L371.1,411.5 L372.3,411.5 L373.5,411.5 L374.7,411.5 L375.9,411.5" fill="none" stroke="#d2d2d2" stroke-width="0.7"/>
<path d="M297.9,411.5 L299.1,398.6 L300.3,376.9 L301.5,357.2 L302.7,351.3 L303.9,351.3 L305.1,348.7 L306.3,340.0 L307.5,345.0 L308.7,346.2 L309.9,341.5 L311.1,348.6 L312.3,348.9 L313.5,355.7 L314.7,358.8 L315.9,366.7 L317.1,368.3 L318.3,371.8 L319.5,378.5 L320.7,381.9 L321.9,386.5 L323.1,392.7 L324.3,393.7 L325.5,397.4 L326.7,400.8 L327.9,403.6 L329.1,403.9 L330.3,406.2 L331.5,407.2 L332.7,408.1 L333.9,409.1 L335.1,409.7 L336.3,410.5 L337.5,410.7 L338.7,411.1 L339.9,411.2 L341.1,411.4 L342.3,411.5 L343.5,411.5 L344.7,411.5 L345.9,411.5 L347.1,411.5 L348.3,411.5 L349.5,411.5 L350.7,411.5 L351.9,411.5 L353.1,411.5 L354.3,411.5 L355.5,411.5 L356.7,411.5 L357.9,411.5 L359.1,411.5 L360.3,411.5 L361.5,411.5 L362.7,411.5 L363.9,411.5 L365.1,411.5 L366.3,411.5 L367.5,411.5 L368.7,411.5 L369.9,411.5 L371.1,411.5 L372.3,411.5 L373.5,411.5 L374.7,411.5 L375.9,411.5" fill="none" stroke="#dcdcdc" stroke-width="0.7" stroke-dasharray="1.2,0.8"/>
<path d="M297.9,410.6 L299.1,410.6 L300.3,410.3 L301.5,410.4 L302.7,410.4 L303.9,410.0 L305.1,409.5 L306.3,409.5 L307.5,409.4 L308.7,409.8 L309.9,409.4 L311.1,409.5 L312.3,409.4 L313.5,409.3 L314.7,408.8 L315.9,407.4 L317.1,406.8 L318.3,405.8 L319.5,404.5 L320.7,404.2 L321.9,401.9 L323.1,398.5 L324.3,394.9 L325.5,390.6 L326.7,385.9 L327.9,385.1 L329.1,376.9 L330.3,370.7 L331.5,365.8 L332.7,362.5 L333.9,354.4 L335.1,352.7 L336.3,340.0 L337.5,336.9 L338.7,337.4 L339.9,338.7 L341.1,332.2 L342.3,336.9 L343.5,336.2 L344.7,340.2 L345.9,347.9 L347.1,353.9 L348.3,358.0 L349.5,365.2 L350.7,372.9 L351.9,377.6 L353.1,380.2 L354.3,389.2 L355.5,393.4 L356.7,395.1 L357.9,399.6 L359.1,401.8 L360.3,404.3 L361.5,406.4 L362.7,406.9 L363.9,409.1 L365.1,409.7 L366.3,410.5 L367.5,410.7 L368.7,411.2 L369.9,411.4 L371.1,411.4 L372.3,411.5 L373.5,411.5 L374.7,411.5 L375.9,411.5" fill="none" stroke="#5a6870" stroke-width="0.8"/>
<path d="M297.9,410.1 L299.1,409.9 L300.3,409.7 L301.5,409.5 L302.7,409.5 L303.9,409.2 L305.1,409.9 L306.3,409.4 L307.5,408.9 L308.7,409.1 L309.9,408.8 L311.1,409.5 L312.3,409.1 L313.5,409.3 L314.7,409.0 L315.9,408.9 L317.1,409.5 L318.3,409.1 L319.5,408.9 L320.7,407.8 L321.9,407.5 L323.1,407.6 L324.3,405.6 L325.5,405.5 L326.7,402.8 L327.9,401.9 L329.1,399.7 L330.3,393.5 L331.5,392.1 L332.7,387.7 L333.9,378.6 L335.1,373.4 L336.3,371.2 L337.5,360.1 L338.7,357.2 L339.9,350.1 L341.1,349.2 L342.3,337.5 L343.5,336.4 L344.7,331.1 L345.9,330.7 L347.1,337.3 L348.3,338.8 L349.5,344.6 L350.7,350.0 L351.9,356.9 L353.1,361.8 L354.3,366.8 L355.5,377.9 L356.7,380.7 L357.9,388.5 L359.1,393.9 L360.3,396.7 L361.5,401.4 L362.7,404.7 L363.9,406.6 L365.1,407.9 L366.3,409.8 L367.5,409.9 L368.7,411.0 L369.9,411.1 L371.1,411.3 L372.3,411.5 L373.5,411.5 L374.7,411.5 L375.9,411.5" fill="none" stroke="#c27f95" stroke-width="0.8"/>
<path d="M297.9,409.7 L299.1,409.5 L300.3,409.7 L301.5,409.7 L302.7,409.8 L303.9,409.1 L305.1,409.1 L306.3,408.7 L307.5,409.0 L308.7,408.5 L309.9,409.0 L311.1,408.4 L312.3,408.4 L313.5,408.8 L314.7,408.6 L315.9,408.4 L317.1,408.9 L318.3,408.4 L319.5,408.0 L320.7,408.4 L321.9,407.4 L323.1,407.0 L324.3,406.0 L325.5,405.8 L326.7,405.1 L327.9,401.9 L329.1,399.6 L330.3,398.1 L331.5,396.3 L332.7,392.4 L333.9,386.4 L335.1,383.4 L336.3,374.5 L337.5,371.2 L338.7,368.2 L339.9,359.1 L341.1,355.9 L342.3,345.5 L343.5,340.7 L344.7,340.3 L345.9,335.8 L347.1,333.0 L348.3,330.8 L349.5,329.2 L350.7,341.0 L351.9,341.1 L353.1,343.7 L354.3,352.5 L355.5,356.8 L356.7,367.6 L357.9,369.2 L359.1,378.4 L360.3,386.7 L361.5,389.7 L362.7,395.9 L363.9,400.2 L365.1,402.6 L366.3,405.8 L367.5,407.5 L368.7,408.1 L369.9,409.4 L371.1,410.7 L372.3,410.7 L373.5,411.4 L374.7,411.5 L375.9,411.5" fill="none" stroke="#d43c5e" stroke-width="0.8"/>
<line x1="294.50" y1="298.90" x2="303.00" y2="298.90" stroke="#c4c4c4" stroke-width="0.6"/>
<text x="0.00" y="0.00" font-size="7.8" text-anchor="start" fill="#231f20" stroke="#231f20" stroke-width="0.18" transform="translate(306.00,301.60) scale(1,1.08)">IgG</text>
<line x1="327.30" y1="298.90" x2="334.70" y2="298.90" stroke="#56656e" stroke-width="0.7"/>
<text x="0.00" y="0.00" font-size="7.6" text-anchor="start" fill="#231f20" stroke="#231f20" stroke-width="0.18" transform="translate(337.50,301.60) scale(1,1.08)">Parental</text>
<line x1="294.50" y1="309.05" x2="303.00" y2="309.05" stroke="#d2d2d2" stroke-width="0.6"/>
<text x="0.00" y="0.00" font-size="7.8" text-anchor="start" fill="#231f20" stroke="#231f20" stroke-width="0.18" transform="translate(306.00,311.75) scale(1,1.08)">IgG</text>
<line x1="327.30" y1="309.05" x2="334.70" y2="309.05" stroke="#c07b93" stroke-width="0.7"/>
<text x="0.00" y="0.00" font-size="7.6" text-anchor="start" fill="#231f20" stroke="#231f20" stroke-width="0.18" transform="translate(337.50,311.75) scale(1,1.08)">Res 0.5/5</text>
<line x1="294.50" y1="319.20" x2="303.00" y2="319.20" stroke="#dedede" stroke-width="0.6"/>
<text x="0.00" y="0.00" font-size="7.8" text-anchor="start" fill="#231f20" stroke="#231f20" stroke-width="0.18" transform="translate(306.00,321.90) scale(1,1.08)">IgG</text>
<line x1="327.30" y1="319.20" x2="334.70" y2="319.20" stroke="#d23a5c" stroke-width="0.7"/>
<text x="0.00" y="0.00" font-size="7.6" text-anchor="start" fill="#231f20" stroke="#231f20" stroke-width="0.18" transform="translate(337.50,321.90) scale(1,1.08)">Res1.5/5</text>
<text x="0.00" y="0.00" font-size="7.8" text-anchor="start" fill="#231f20" stroke="#231f20" stroke-width="0.18" transform="translate(354.80,332.50) scale(1,1.08)"><tspan font-style="italic">P</tspan> &lt; .0001</text>
<text x="0.00" y="0.00" font-size="7.8" text-anchor="start" fill="#231f20" stroke="#231f20" stroke-width="0.18" transform="translate(354.80,341.80) scale(1,1.08)"><tspan font-style="italic">P</tspan> &lt; .0001</text>
<text x="0.00" y="0.00" font-size="11" text-anchor="start" fill="#000" stroke="#000" stroke-width="0.35" font-weight="bold" transform="translate(418.50,297.20) scale(1,1.08)">F</text>
<text x="0.00" y="0.00" font-size="10.2" text-anchor="middle" fill="#231f20" stroke="#231f20" stroke-width="0.18" transform="translate(481.00,307.40) scale(1,1.08)">TCGA AML</text>
<text x="0.00" y="0.00" font-size="7.8" text-anchor="start" fill="#231f20" stroke="#231f20" stroke-width="0.18" transform="translate(468.00,319.30) scale(1,1.08)"><tspan font-style="italic">P</tspan> = .01</text>
<line x1="449.40" y1="316.80" x2="449.40" y2="411.60" stroke="#231f20" stroke-width="0.9"/>
<line x1="449.40" y1="411.60" x2="512.50" y2="411.60" stroke="#231f20" stroke-width="0.9"/>
<line x1="446.40" y1="411.60" x2="449.40" y2="411.60" stroke="#231f20" stroke-width="0.8"/>
<text x="0.00" y="0.00" font-size="8.2" text-anchor="end" fill="#231f20" stroke="#231f20" stroke-width="0.18" transform="translate(444.50,414.50) scale(1,1.08)">9</text>
<line x1="446.40" y1="388.05" x2="449.40" y2="388.05" stroke="#231f20" stroke-width="0.8"/>
<text x="0.00" y="0.00" font-size="8.2" text-anchor="end" fill="#231f20" stroke="#231f20" stroke-width="0.18" transform="translate(444.50,390.95) scale(1,1.08)">10</text>
<line x1="446.40" y1="364.50" x2="449.40" y2="364.50" stroke="#231f20" stroke-width="0.8"/>
<text x="0.00" y="0.00" font-size="8.2" text-anchor="end" fill="#231f20" stroke="#231f20" stroke-width="0.18" transform="translate(444.50,367.40) scale(1,1.08)">11</text>
<line x1="446.40" y1="340.95" x2="449.40" y2="340.95" stroke="#231f20" stroke-width="0.8"/>
<text x="0.00" y="0.00" font-size="8.2" text-anchor="end" fill="#231f20" stroke="#231f20" stroke-width="0.18" transform="translate(444.50,343.85) scale(1,1.08)">12</text>
<line x1="446.40" y1="317.40" x2="449.40" y2="317.40" stroke="#231f20" stroke-width="0.8"/>
<text x="0.00" y="0.00" font-size="8.2" text-anchor="end" fill="#231f20" stroke="#231f20" stroke-width="0.18" transform="translate(444.50,320.30) scale(1,1.08)">13</text>
<line x1="467.60" y1="411.60" x2="467.60" y2="414.00" stroke="#231f20" stroke-width="0.8"/>
<line x1="494.30" y1="411.60" x2="494.30" y2="414.00" stroke="#231f20" stroke-width="0.8"/>
<path d="M467.70,324.10L470.10,326.50L467.70,328.90L465.30,326.50Z" fill="#f6901c"/>
<path d="M466.67,328.50L468.97,330.80L466.67,333.10L464.37,330.80Z" fill="#f6901c"/>
<path d="M468.95,328.50L471.25,330.80L468.95,333.10L466.65,330.80Z" fill="#f6901c"/>
<path d="M466.58,330.50L468.88,332.80L466.58,335.10L464.28,332.80Z" fill="#f6901c"/>
<path d="M469.27,330.50L471.57,332.80L469.27,335.10L466.97,332.80Z" fill="#f6901c"/>
<path d="M466.54,332.50L468.84,334.80L466.54,337.10L464.24,334.80Z" fill="#f6901c"/>
<path d="M469.25,332.50L471.55,334.80L469.25,337.10L466.95,334.80Z" fill="#f6901c"/>
<path d="M466.12,334.50L468.42,336.80L466.12,339.10L463.82,336.80Z" fill="#f6901c"/>
<path d="M468.98,334.50L471.28,336.80L468.98,339.10L466.68,336.80Z" fill="#f6901c"/>
<path d="M466.02,336.50L468.32,338.80L466.02,341.10L463.72,338.80Z" fill="#f6901c"/>
<path d="M469.73,336.50L472.03,338.80L469.73,341.10L467.43,338.80Z" fill="#f6901c"/>
<path d="M465.28,338.50L467.58,340.80L465.28,343.10L462.98,340.80Z" fill="#f6901c"/>
<path d="M467.47,338.50L469.77,340.80L467.47,343.10L465.17,340.80Z" fill="#f6901c"/>
<path d="M470.34,338.50L472.64,340.80L470.34,343.10L468.04,340.80Z" fill="#f6901c"/>
<path d="M463.79,340.50L466.09,342.80L463.79,345.10L461.49,342.80Z" fill="#f6901c"/>
<path d="M466.47,340.50L468.77,342.80L466.47,345.10L464.17,342.80Z" fill="#f6901c"/>
<path d="M469.00,340.50L471.30,342.80L469.00,345.10L466.70,342.80Z" fill="#f6901c"/>
<path d="M471.17,340.50L473.47,342.80L471.17,345.10L468.87,342.80Z" fill="#f6901c"/>
<path d="M462.57,342.50L464.87,344.80L462.57,347.10L460.27,344.80Z" fill="#f6901c"/>
<path d="M465.09,342.50L467.39,344.80L465.09,347.10L462.79,344.80Z" fill="#f6901c"/>
<path d="M467.95,342.50L470.25,344.80L467.95,347.10L465.65,344.80Z" fill="#f6901c"/>
<path d="M470.34,342.50L472.64,344.80L470.34,347.10L468.04,344.80Z" fill="#f6901c"/>
<path d="M472.46,342.50L474.76,344.80L472.46,347.10L470.16,344.80Z" fill="#f6901c"/>
<path d="M462.34,344.50L464.64,346.80L462.34,349.10L460.04,346.80Z" fill="#f6901c"/>
<path d="M464.71,344.50L467.01,346.80L464.71,349.10L462.41,346.80Z" fill="#f6901c"/>
<path d="M467.77,344.50L470.07,346.80L467.77,349.10L465.47,346.80Z" fill="#f6901c"/>
<path d="M470.25,344.50L472.55,346.80L470.25,349.10L467.95,346.80Z" fill="#f6901c"/>
<path d="M472.94,344.50L475.24,346.80L472.94,349.10L470.64,346.80Z" fill="#f6901c"/>
<path d="M463.24,346.50L465.54,348.80L463.24,351.10L460.94,348.80Z" fill="#f6901c"/>
<path d="M465.18,346.50L467.48,348.80L465.18,351.10L462.88,348.80Z" fill="#f6901c"/>
<path d="M467.53,346.50L469.83,348.80L467.53,351.10L465.23,348.80Z" fill="#f6901c"/>
<path d="M470.33,346.50L472.63,348.80L470.33,351.10L468.03,348.80Z" fill="#f6901c"/>
<path d="M472.61,346.50L474.91,348.80L472.61,351.10L470.31,348.80Z" fill="#f6901c"/>
<path d="M462.89,348.50L465.19,350.80L462.89,353.10L460.59,350.80Z" fill="#f6901c"/>
<path d="M465.63,348.50L467.93,350.80L465.63,353.10L463.33,350.80Z" fill="#f6901c"/>
<path d="M467.72,348.50L470.02,350.80L467.72,353.10L465.42,350.80Z" fill="#f6901c"/>
<path d="M470.15,348.50L472.45,350.80L470.15,353.10L467.85,350.80Z" fill="#f6901c"/>
<path d="M472.21,348.50L474.51,350.80L472.21,353.10L469.91,350.80Z" fill="#f6901c"/>
<path d="M462.58,350.50L464.88,352.80L462.58,355.10L460.28,352.80Z" fill="#f6901c"/>
<path d="M465.12,350.50L467.42,352.80L465.12,355.10L462.82,352.80Z" fill="#f6901c"/>
<path d="M467.98,350.50L470.28,352.80L467.98,355.10L465.68,352.80Z" fill="#f6901c"/>
<path d="M470.63,350.50L472.93,352.80L470.63,355.10L468.33,352.80Z" fill="#f6901c"/>
<path d="M472.97,350.50L475.27,352.80L472.97,355.10L470.67,352.80Z" fill="#f6901c"/>
<path d="M461.53,352.50L463.83,354.80L461.53,357.10L459.23,354.80Z" fill="#f6901c"/>
<path d="M463.85,352.50L466.15,354.80L463.85,357.10L461.55,354.80Z" fill="#f6901c"/>
<path d="M466.27,352.50L468.57,354.80L466.27,357.10L463.97,354.80Z" fill="#f6901c"/>
<path d="M468.66,352.50L470.96,354.80L468.66,357.10L466.36,354.80Z" fill="#f6901c"/>
<path d="M471.23,352.50L473.53,354.80L471.23,357.10L468.93,354.80Z" fill="#f6901c"/>
<path d="M473.85,352.50L476.15,354.80L473.85,357.10L471.55,354.80Z" fill="#f6901c"/>
<path d="M461.60,354.50L463.90,356.80L461.60,359.10L459.30,356.80Z" fill="#f6901c"/>
<path d="M464.91,354.50L467.21,356.80L464.91,359.10L462.61,356.80Z" fill="#f6901c"/>
<path d="M467.60,354.50L469.90,356.80L467.60,359.10L465.30,356.80Z" fill="#f6901c"/>
<path d="M470.49,354.50L472.79,356.80L470.49,359.10L468.19,356.80Z" fill="#f6901c"/>
<path d="M473.69,354.50L475.99,356.80L473.69,359.10L471.39,356.80Z" fill="#f6901c"/>
<path d="M462.60,356.50L464.90,358.80L462.60,361.10L460.30,358.80Z" fill="#f6901c"/>
<path d="M465.05,356.50L467.35,358.80L465.05,361.10L462.75,358.80Z" fill="#f6901c"/>
<path d="M467.69,356.50L469.99,358.80L467.69,361.10L465.39,358.80Z" fill="#f6901c"/>
<path d="M470.37,356.50L472.67,358.80L470.37,361.10L468.07,358.80Z" fill="#f6901c"/>
<path d="M472.52,356.50L474.82,358.80L472.52,361.10L470.22,358.80Z" fill="#f6901c"/>
<path d="M463.40,358.50L465.70,360.80L463.40,363.10L461.10,360.80Z" fill="#f6901c"/>
<path d="M465.12,358.50L467.42,360.80L465.12,363.10L462.82,360.80Z" fill="#f6901c"/>
<path d="M467.85,358.50L470.15,360.80L467.85,363.10L465.55,360.80Z" fill="#f6901c"/>
<path d="M470.20,358.50L472.50,360.80L470.20,363.10L467.90,360.80Z" fill="#f6901c"/>
<path d="M472.00,358.50L474.30,360.80L472.00,363.10L469.70,360.80Z" fill="#f6901c"/>
<path d="M463.71,360.50L466.01,362.80L463.71,365.10L461.41,362.80Z" fill="#f6901c"/>
<path d="M466.23,360.50L468.53,362.80L466.23,365.10L463.93,362.80Z" fill="#f6901c"/>
<path d="M469.13,360.50L471.43,362.80L469.13,365.10L466.83,362.80Z" fill="#f6901c"/>
<path d="M471.57,360.50L473.87,362.80L471.57,365.10L469.27,362.80Z" fill="#f6901c"/>
<path d="M463.97,362.50L466.27,364.80L463.97,367.10L461.67,364.80Z" fill="#f6901c"/>
<path d="M466.35,362.50L468.65,364.80L466.35,367.10L464.05,364.80Z" fill="#f6901c"/>
<path d="M469.13,362.50L471.43,364.80L469.13,367.10L466.83,364.80Z" fill="#f6901c"/>
<path d="M470.98,362.50L473.28,364.80L470.98,367.10L468.68,364.80Z" fill="#f6901c"/>
<path d="M465.07,364.50L467.37,366.80L465.07,369.10L462.77,366.80Z" fill="#f6901c"/>
<path d="M467.96,364.50L470.26,366.80L467.96,369.10L465.66,366.80Z" fill="#f6901c"/>
<path d="M470.75,364.50L473.05,366.80L470.75,369.10L468.45,366.80Z" fill="#f6901c"/>
<path d="M465.06,366.50L467.36,368.80L465.06,371.10L462.76,368.80Z" fill="#f6901c"/>
<path d="M467.61,366.50L469.91,368.80L467.61,371.10L465.31,368.80Z" fill="#f6901c"/>
<path d="M470.26,366.50L472.56,368.80L470.26,371.10L467.96,368.80Z" fill="#f6901c"/>
<path d="M465.55,368.50L467.85,370.80L465.55,373.10L463.25,370.80Z" fill="#f6901c"/>
<path d="M467.46,368.50L469.76,370.80L467.46,373.10L465.16,370.80Z" fill="#f6901c"/>
<path d="M470.16,368.50L472.46,370.80L470.16,373.10L467.86,370.80Z" fill="#f6901c"/>
<path d="M465.91,370.50L468.21,372.80L465.91,375.10L463.61,372.80Z" fill="#f6901c"/>
<path d="M467.92,370.50L470.22,372.80L467.92,375.10L465.62,372.80Z" fill="#f6901c"/>
<path d="M469.39,370.50L471.69,372.80L469.39,375.10L467.09,372.80Z" fill="#f6901c"/>
<path d="M466.35,372.50L468.65,374.80L466.35,377.10L464.05,374.80Z" fill="#f6901c"/>
<path d="M469.07,372.50L471.37,374.80L469.07,377.10L466.77,374.80Z" fill="#f6901c"/>
<path d="M466.32,374.50L468.62,376.80L466.32,379.10L464.02,376.80Z" fill="#f6901c"/>
<path d="M469.05,374.50L471.35,376.80L469.05,379.10L466.75,376.80Z" fill="#f6901c"/>
<path d="M466.85,376.50L469.15,378.80L466.85,381.10L464.55,378.80Z" fill="#f6901c"/>
<path d="M468.71,376.50L471.01,378.80L468.71,381.10L466.41,378.80Z" fill="#f6901c"/>
<path d="M467.03,378.50L469.33,380.80L467.03,383.10L464.73,380.80Z" fill="#f6901c"/>
<path d="M468.65,378.50L470.95,380.80L468.65,383.10L466.35,380.80Z" fill="#f6901c"/>
<path d="M466.79,380.50L469.09,382.80L466.79,385.10L464.49,382.80Z" fill="#f6901c"/>
<path d="M468.39,380.50L470.69,382.80L468.39,385.10L466.09,382.80Z" fill="#f6901c"/>
<path d="M466.71,382.50L469.01,384.80L466.71,387.10L464.41,384.80Z" fill="#f6901c"/>
<path d="M468.25,382.50L470.55,384.80L468.25,387.10L465.95,384.80Z" fill="#f6901c"/>
<path d="M466.69,384.50L468.99,386.80L466.69,389.10L464.39,386.80Z" fill="#f6901c"/>
<path d="M468.61,384.50L470.91,386.80L468.61,389.10L466.31,386.80Z" fill="#f6901c"/>
<path d="M467.31,386.50L469.61,388.80L467.31,391.10L465.01,388.80Z" fill="#f6901c"/>
<path d="M468.19,386.50L470.49,388.80L468.19,391.10L465.89,388.80Z" fill="#f6901c"/>
<path d="M467.43,388.50L469.73,390.80L467.43,393.10L465.13,390.80Z" fill="#f6901c"/>
<path d="M467.99,390.50L470.29,392.80L467.99,395.10L465.69,392.80Z" fill="#f6901c"/>
<path d="M467.70,399.30L470.00,401.60L467.70,403.90L465.40,401.60Z" fill="#f6901c"/>
<path d="M494.75,319.60L497.45,322.30L494.75,325.00L492.05,322.30Z" fill="#a3b392"/>
<path d="M494.75,326.30L497.45,329.00L494.75,331.70L492.05,329.00Z" fill="#a3b392"/>
<path d="M491.00,332.10L493.70,334.80L491.00,337.50L488.30,334.80Z" fill="#a3b392"/>
<path d="M496.50,334.80L499.20,337.50L496.50,340.20L493.80,337.50Z" fill="#a3b392"/>
<path d="M489.00,338.30L491.70,341.00L489.00,343.70L486.30,341.00Z" fill="#a3b392"/>
<path d="M494.00,338.30L496.70,341.00L494.00,343.70L491.30,341.00Z" fill="#a3b392"/>
<path d="M499.50,338.30L502.20,341.00L499.50,343.70L496.80,341.00Z" fill="#a3b392"/>
<path d="M491.50,342.30L494.20,345.00L491.50,347.70L488.80,345.00Z" fill="#a3b392"/>
<path d="M497.00,342.30L499.70,345.00L497.00,347.70L494.30,345.00Z" fill="#a3b392"/>
<path d="M489.00,346.30L491.70,349.00L489.00,351.70L486.30,349.00Z" fill="#a3b392"/>
<path d="M494.75,347.30L497.45,350.00L494.75,352.70L492.05,350.00Z" fill="#a3b392"/>
<path d="M500.00,346.30L502.70,349.00L500.00,351.70L497.30,349.00Z" fill="#a3b392"/>
<path d="M492.50,356.70L495.20,359.40L492.50,362.10L489.80,359.40Z" fill="#a3b392"/>
<path d="M495.50,359.20L498.20,361.90L495.50,364.60L492.80,361.90Z" fill="#a3b392"/>
<path d="M497.50,361.05L500.20,363.75L497.50,366.45L494.80,363.75Z" fill="#a3b392"/>
<path d="M494.75,377.30L497.45,380.00L494.75,382.70L492.05,380.00Z" fill="#a3b392"/>
<line x1="459.20" y1="355.50" x2="476.70" y2="355.50" stroke="#222" stroke-width="0.9"/>
<line x1="467.60" y1="346.70" x2="467.60" y2="365.60" stroke="#222" stroke-width="0.8"/>
<line x1="463.60" y1="346.70" x2="472.30" y2="346.70" stroke="#222" stroke-width="0.8"/>
<line x1="463.60" y1="365.60" x2="472.30" y2="365.60" stroke="#222" stroke-width="0.8"/>
<line x1="485.60" y1="346.90" x2="503.80" y2="346.90" stroke="#222" stroke-width="0.9"/>
<line x1="494.90" y1="339.00" x2="494.90" y2="353.10" stroke="#222" stroke-width="0.8"/>
<line x1="491.00" y1="339.00" x2="498.80" y2="339.00" stroke="#222" stroke-width="0.8"/>
<line x1="491.00" y1="353.10" x2="498.80" y2="353.10" stroke="#222" stroke-width="0.8"/>
<text x="0.00" y="0.00" font-size="9.5" text-anchor="middle" fill="#231f20" stroke="#231f20" stroke-width="0.32" transform="translate(428.60,362.70) rotate(-90) scale(0.69,1.0)">CAD expression log<tspan dy="2.2" font-size="6.5">2</tspan></text>
<text x="0.00" y="0.00" font-size="8.2" text-anchor="end" fill="#231f20" stroke="#231f20" stroke-width="0.18" transform="translate(470.60,421.80) rotate(-45) scale(1,1.08)"><tspan font-style="italic">TP53</tspan>-wt</text>
<text x="0.00" y="0.00" font-size="8.2" text-anchor="end" fill="#231f20" stroke="#231f20" stroke-width="0.18" transform="translate(493.60,421.40) rotate(-45) scale(1,1.08)"><tspan font-style="italic">TP53</tspan>-</text>
<text x="0.00" y="0.00" font-size="8.2" text-anchor="end" fill="#231f20" stroke="#231f20" stroke-width="0.18" transform="translate(502.40,426.60) rotate(-45) scale(1,1.08)">mut. or del</text>
<text x="0.00" y="0.00" font-size="11" text-anchor="start" fill="#000" stroke="#000" stroke-width="0.35" font-weight="bold" transform="translate(8.00,475.50) scale(1,1.08)">G</text>
<rect x="44.90" y="521.20" width="10.30" height="10.30" fill="#3b4ea4" stroke="none" stroke-width="1"/>
<rect x="56.20" y="521.20" width="10.30" height="10.30" fill="#3b4ea4" stroke="none" stroke-width="1"/>
<rect x="67.50" y="521.20" width="10.30" height="10.30" fill="#3f56a8" stroke="none" stroke-width="1"/>
<rect x="78.80" y="521.20" width="10.30" height="10.30" fill="#e6242b" stroke="none" stroke-width="1"/>
<rect x="90.10" y="521.20" width="10.30" height="10.30" fill="#ea5a5e" stroke="none" stroke-width="1"/>
<rect x="101.40" y="521.20" width="10.30" height="10.30" fill="#ea5a5e" stroke="none" stroke-width="1"/>
<rect x="44.90" y="532.50" width="10.30" height="10.30" fill="#3b4ea4" stroke="none" stroke-width="1"/>
<rect x="56.20" y="532.50" width="10.30" height="10.30" fill="#3b4ea4" stroke="none" stroke-width="1"/>
<rect x="67.50" y="532.50" width="10.30" height="10.30" fill="#3b4ea4" stroke="none" stroke-width="1"/>
<rect x="78.80" y="532.50" width="10.30" height="10.30" fill="#e65458" stroke="none" stroke-width="1"/>
<rect x="90.10" y="532.50" width="10.30" height="10.30" fill="#ec6466" stroke="none" stroke-width="1"/>
<rect x="101.40" y="532.50" width="10.30" height="10.30" fill="#e6242b" stroke="none" stroke-width="1"/>
<rect x="44.90" y="543.80" width="10.30" height="10.30" fill="#3b4ea4" stroke="none" stroke-width="1"/>
<rect x="56.20" y="543.80" width="10.30" height="10.30" fill="#3b4ea4" stroke="none" stroke-width="1"/>
<rect x="67.50" y="543.80" width="10.30" height="10.30" fill="#3b4ea4" stroke="none" stroke-width="1"/>
<rect x="78.80" y="543.80" width="10.30" height="10.30" fill="#e6242b" stroke="none" stroke-width="1"/>
<rect x="90.10" y="543.80" width="10.30" height="10.30" fill="#e6242b" stroke="none" stroke-width="1"/>
<rect x="101.40" y="543.80" width="10.30" height="10.30" fill="#e6242b" stroke="none" stroke-width="1"/>
<rect x="44.90" y="555.10" width="10.30" height="10.30" fill="#b6b9de" stroke="none" stroke-width="1"/>
<rect x="56.20" y="555.10" width="10.30" height="10.30" fill="#e6242b" stroke="none" stroke-width="1"/>
<rect x="67.50" y="555.10" width="10.30" height="10.30" fill="#e6242b" stroke="none" stroke-width="1"/>
<rect x="78.80" y="555.10" width="10.30" height="10.30" fill="#a8acd6" stroke="none" stroke-width="1"/>
<rect x="90.10" y="555.10" width="10.30" height="10.30" fill="#5064b0" stroke="none" stroke-width="1"/>
<rect x="101.40" y="555.10" width="10.30" height="10.30" fill="#3b4ea4" stroke="none" stroke-width="1"/>
<rect x="44.90" y="566.40" width="10.30" height="10.30" fill="#b9bce0" stroke="none" stroke-width="1"/>
<rect x="56.20" y="566.40" width="10.30" height="10.30" fill="#e6242b" stroke="none" stroke-width="1"/>
<rect x="67.50" y="566.40" width="10.30" height="10.30" fill="#e6242b" stroke="none" stroke-width="1"/>
<rect x="78.80" y="566.40" width="10.30" height="10.30" fill="#3b4ea4" stroke="none" stroke-width="1"/>
<rect x="90.10" y="566.40" width="10.30" height="10.30" fill="#3b4ea4" stroke="none" stroke-width="1"/>
<rect x="101.40" y="566.40" width="10.30" height="10.30" fill="#3b4ea4" stroke="none" stroke-width="1"/>
<text x="0.00" y="0.00" font-size="8.2" text-anchor="end" fill="#231f20" stroke="#231f20" stroke-width="0.18" transform="translate(42.80,529.50) scale(1,1.08)">Cad</text>
<text x="0.00" y="0.00" font-size="8.2" text-anchor="end" fill="#231f20" stroke="#231f20" stroke-width="0.18" transform="translate(42.80,540.80) scale(1,1.08)">Umps</text>
<text x="0.00" y="0.00" font-size="8.2" text-anchor="end" fill="#231f20" stroke="#231f20" stroke-width="0.18" transform="translate(42.80,552.10) scale(1,1.08)">Rrm1</text>
<text x="0.00" y="0.00" font-size="8.2" text-anchor="end" fill="#231f20" stroke="#231f20" stroke-width="0.18" transform="translate(42.80,563.40) scale(1,1.08)">Dhodh</text>
<text x="0.00" y="0.00" font-size="8.2" text-anchor="end" fill="#231f20" stroke="#231f20" stroke-width="0.18" transform="translate(42.80,574.70) scale(1,1.08)">Rrm2b</text>
<text x="0.00" y="0.00" font-size="8.0" text-anchor="start" fill="#231f20" stroke="#231f20" stroke-width="0.18" transform="translate(53.60,519.30) rotate(-90) scale(1,1.08)">WT1</text>
<text x="0.00" y="0.00" font-size="8.0" text-anchor="start" fill="#231f20" stroke="#231f20" stroke-width="0.18" transform="translate(64.90,519.30) rotate(-90) scale(1,1.08)">WT2</text>
<text x="0.00" y="0.00" font-size="8.0" text-anchor="start" fill="#231f20" stroke="#231f20" stroke-width="0.18" transform="translate(76.10,519.30) rotate(-90) scale(1,1.08)">WT3</text>
<text x="0.00" y="0.00" font-size="8.0" text-anchor="start" fill="#231f20" stroke="#231f20" stroke-width="0.18" transform="translate(87.40,519.30) rotate(-90) scale(1,1.08)"><tspan font-style="italic">Tp53</tspan> KO1</text>
<text x="0.00" y="0.00" font-size="8.0" text-anchor="start" fill="#231f20" stroke="#231f20" stroke-width="0.18" transform="translate(98.70,519.30) rotate(-90) scale(1,1.08)"><tspan font-style="italic">Tp53</tspan> KO2</text>
<text x="0.00" y="0.00" font-size="8.0" text-anchor="start" fill="#231f20" stroke="#231f20" stroke-width="0.18" transform="translate(109.90,519.30) rotate(-90) scale(1,1.08)"><tspan font-style="italic">Tp53</tspan> KO3</text>
<text x="0.00" y="0.00" font-size="7.8" text-anchor="start" fill="#231f20" stroke="#231f20" stroke-width="0.18" font-style="italic" transform="translate(117.50,516.60) scale(1,1.08)">t test</text>
<line x1="117.50" y1="518.00" x2="135.20" y2="518.00" stroke="#231f20" stroke-width="0.6"/>
<text x="0.00" y="0.00" font-size="8.2" text-anchor="start" fill="#231f20" stroke="#231f20" stroke-width="0.18" transform="translate(114.60,529.60) scale(1,1.08)"><tspan font-style="italic">P</tspan> = .001</text>
<text x="0.00" y="0.00" font-size="8.2" text-anchor="start" fill="#231f20" stroke="#231f20" stroke-width="0.18" transform="translate(114.60,540.90) scale(1,1.08)"><tspan font-style="italic">P</tspan> = .003</text>
<text x="0.00" y="0.00" font-size="8.2" text-anchor="start" fill="#231f20" stroke="#231f20" stroke-width="0.18" transform="translate(114.60,552.20) scale(1,1.08)"><tspan font-style="italic">P</tspan> &lt; .0001</text>
<text x="0.00" y="0.00" font-size="8.2" text-anchor="start" fill="#231f20" stroke="#231f20" stroke-width="0.18" transform="translate(114.60,563.50) scale(1,1.08)"><tspan font-style="italic">P</tspan> = .06</text>
<text x="0.00" y="0.00" font-size="8.2" text-anchor="start" fill="#231f20" stroke="#231f20" stroke-width="0.18" transform="translate(114.60,574.80) scale(1,1.08)"><tspan font-style="italic">P</tspan> = .06</text>
<defs><linearGradient id="g1" x1="0" x2="1" y1="0" y2="0"><stop offset="0" stop-color="#3b4ea4"/><stop offset="0.5" stop-color="#ffffff"/><stop offset="1" stop-color="#e6242b"/></linearGradient></defs>
<rect x="46.50" y="580.30" width="64.00" height="3.50" fill="url(#g1)" stroke="none" stroke-width="1"/>
<text x="0.00" y="0.00" font-size="8.0" text-anchor="middle" fill="#231f20" stroke="#231f20" stroke-width="0.18" transform="translate(48.50,592.00) scale(1,1.08)">Row min</text>
<text x="0.00" y="0.00" font-size="8.0" text-anchor="middle" fill="#231f20" stroke="#231f20" stroke-width="0.18" transform="translate(106.00,592.00) scale(1,1.08)">Row max</text>
<text x="0.00" y="0.00" font-size="11" text-anchor="start" fill="#000" stroke="#000" stroke-width="0.35" font-weight="bold" transform="translate(180.50,475.50) scale(1,1.08)">H</text>
<text x="0.00" y="0.00" font-size="9.6" text-anchor="middle" fill="#231f20" stroke="#231f20" stroke-width="0.18" transform="translate(264.80,483.00) scale(1,1.08)">BEAT AML</text>
<text x="0.00" y="0.00" font-size="7.8" text-anchor="middle" fill="#231f20" stroke="#231f20" stroke-width="0.18" transform="translate(249.50,495.50) scale(1,1.08)">Wild</text>
<text x="0.00" y="0.00" font-size="7.8" text-anchor="middle" fill="#231f20" stroke="#231f20" stroke-width="0.18" transform="translate(249.50,503.00) scale(1,1.08)">type</text>
<text x="0.00" y="0.00" font-size="7.8" text-anchor="middle" fill="#231f20" stroke="#231f20" stroke-width="0.18" font-style="italic" transform="translate(281.50,495.50) scale(1,1.08)">TP53</text>
<text x="0.00" y="0.00" font-size="7.8" text-anchor="middle" fill="#231f20" stroke="#231f20" stroke-width="0.18" font-style="italic" transform="translate(283.00,503.00) scale(1,1.08)">-mut</text>
<text x="0.00" y="0.00" font-size="7.8" text-anchor="end" fill="#231f20" stroke="#231f20" stroke-width="0.18" transform="translate(225.00,506.20) scale(1,1.08)">Cytogen</text>
<text x="0.00" y="0.00" font-size="7.8" text-anchor="end" fill="#231f20" stroke="#231f20" stroke-width="0.18" transform="translate(225.00,516.80) scale(1,1.08)">abnorm:</text>
<path d="M228.3,510.6 Q228.3,508 230.3,508 L266.5,508 Q268.5,508 268.5,510.6" fill="none" stroke="#231f20" stroke-width="0.7"/>
<path d="M271.5,510.6 Q271.5,508 273.5,508 L289.5,508 Q291.5,508 291.5,510.6" fill="none" stroke="#231f20" stroke-width="0.7"/>
<text x="0.00" y="0.00" font-size="7.8" text-anchor="middle" fill="#231f20" stroke="#231f20" stroke-width="0.18" transform="translate(238.20,517.40) scale(1,1.08)">0</text>
<text x="0.00" y="0.00" font-size="7.8" text-anchor="middle" fill="#231f20" stroke="#231f20" stroke-width="0.18" transform="translate(258.80,517.40) scale(1,1.08)">≥1</text>
<text x="0.00" y="0.00" font-size="7.8" text-anchor="middle" fill="#231f20" stroke="#231f20" stroke-width="0.18" transform="translate(281.40,517.40) scale(1,1.08)">≥3</text>
<text x="0.00" y="0.00" font-size="7.8" text-anchor="start" fill="#231f20" stroke="#231f20" stroke-width="0.18" font-style="italic" transform="translate(296.00,517.00) scale(1,1.08)">t test</text>
<line x1="296.00" y1="518.30" x2="314.00" y2="518.30" stroke="#231f20" stroke-width="0.6"/>
<rect x="226.90" y="521.90" width="20.40" height="10.15" fill="#3b4ea4" stroke="none" stroke-width="1"/>
<rect x="248.30" y="521.90" width="20.40" height="10.15" fill="#3b4ea4" stroke="none" stroke-width="1"/>
<rect x="269.70" y="521.90" width="20.40" height="10.15" fill="#e6242b" stroke="none" stroke-width="1"/>
<rect x="226.90" y="533.05" width="20.40" height="10.15" fill="#5d6bb6" stroke="none" stroke-width="1"/>
<rect x="248.30" y="533.05" width="20.40" height="10.15" fill="#3b4ea4" stroke="none" stroke-width="1"/>
<rect x="269.70" y="533.05" width="20.40" height="10.15" fill="#e6242b" stroke="none" stroke-width="1"/>
<rect x="226.90" y="544.20" width="20.40" height="10.15" fill="#3b4ea4" stroke="none" stroke-width="1"/>
<rect x="248.30" y="544.20" width="20.40" height="10.15" fill="#7480c2" stroke="none" stroke-width="1"/>
<rect x="269.70" y="544.20" width="20.40" height="10.15" fill="#e6242b" stroke="none" stroke-width="1"/>
<rect x="226.90" y="555.35" width="20.40" height="10.15" fill="#e6242b" stroke="none" stroke-width="1"/>
<rect x="248.30" y="555.35" width="20.40" height="10.15" fill="#f6e4e4" stroke="none" stroke-width="1"/>
<rect x="269.70" y="555.35" width="20.40" height="10.15" fill="#3b4ea4" stroke="none" stroke-width="1"/>
<rect x="226.90" y="566.50" width="20.40" height="10.15" fill="#f6e1e1" stroke="none" stroke-width="1"/>
<rect x="248.30" y="566.50" width="20.40" height="10.15" fill="#e6242b" stroke="none" stroke-width="1"/>
<rect x="269.70" y="566.50" width="20.40" height="10.15" fill="#3b4ea4" stroke="none" stroke-width="1"/>
<text x="0.00" y="0.00" font-size="8.2" text-anchor="end" fill="#231f20" stroke="#231f20" stroke-width="0.18" transform="translate(223.50,530.10) scale(1,1.08)">CAD</text>
<text x="0.00" y="0.00" font-size="8.2" text-anchor="end" fill="#231f20" stroke="#231f20" stroke-width="0.18" transform="translate(223.50,541.25) scale(1,1.08)">UMPS</text>
<text x="0.00" y="0.00" font-size="8.2" text-anchor="end" fill="#231f20" stroke="#231f20" stroke-width="0.18" transform="translate(223.50,552.40) scale(1,1.08)">RRM1</text>
<text x="0.00" y="0.00" font-size="8.2" text-anchor="end" fill="#231f20" stroke="#231f20" stroke-width="0.18" transform="translate(223.50,563.55) scale(1,1.08)">DHODH</text>
<text x="0.00" y="0.00" font-size="8.2" text-anchor="end" fill="#231f20" stroke="#231f20" stroke-width="0.18" transform="translate(223.50,574.70) scale(1,1.08)">RRM2B</text>
<text x="0.00" y="0.00" font-size="8.2" text-anchor="start" fill="#231f20" stroke="#231f20" stroke-width="0.18" transform="translate(294.60,530.20) scale(1,1.08)"><tspan font-style="italic">P</tspan> = .01</text>
<text x="0.00" y="0.00" font-size="8.2" text-anchor="start" fill="#231f20" stroke="#231f20" stroke-width="0.18" transform="translate(294.60,541.35) scale(1,1.08)"><tspan font-style="italic">P</tspan> = .02</text>
<text x="0.00" y="0.00" font-size="8.2" text-anchor="start" fill="#231f20" stroke="#231f20" stroke-width="0.18" transform="translate(294.60,552.50) scale(1,1.08)"><tspan font-style="italic">P</tspan> = .0002</text>
<text x="0.00" y="0.00" font-size="8.2" text-anchor="start" fill="#231f20" stroke="#231f20" stroke-width="0.18" transform="translate(294.60,563.65) scale(1,1.08)"><tspan font-style="italic">P</tspan> = .03</text>
<text x="0.00" y="0.00" font-size="8.2" text-anchor="start" fill="#231f20" stroke="#231f20" stroke-width="0.18" transform="translate(294.60,574.80) scale(1,1.08)"><tspan font-style="italic">P</tspan> = .03</text>
<defs><linearGradient id="g2" x1="0" x2="1" y1="0" y2="0"><stop offset="0" stop-color="#3b4ea4"/><stop offset="0.5" stop-color="#ffffff"/><stop offset="1" stop-color="#e6242b"/></linearGradient></defs>
<rect x="226.20" y="580.80" width="64.60" height="3.20" fill="url(#g2)" stroke="none" stroke-width="1"/>
<text x="0.00" y="0.00" font-size="8.0" text-anchor="middle" fill="#231f20" stroke="#231f20" stroke-width="0.18" transform="translate(229.40,591.60) scale(1,1.08)">Row min</text>
<text x="0.00" y="0.00" font-size="8.0" text-anchor="middle" fill="#231f20" stroke="#231f20" stroke-width="0.18" transform="translate(286.00,591.60) scale(1,1.08)">Row max</text>
<text x="0.00" y="0.00" font-size="11" text-anchor="start" fill="#000" stroke="#000" stroke-width="0.35" font-weight="bold" transform="translate(354.80,475.90) scale(1,1.08)">I</text>
<text x="0.00" y="0.00" font-size="9.6" text-anchor="middle" fill="#231f20" stroke="#231f20" stroke-width="0.18" transform="translate(438.20,479.20) scale(1,1.08)">TCGA Pan-</text>
<text x="0.00" y="0.00" font-size="9.6" text-anchor="middle" fill="#231f20" stroke="#231f20" stroke-width="0.18" transform="translate(438.00,490.80) scale(1,1.08)">Cancer</text>
<text x="0.00" y="0.00" font-size="7.8" text-anchor="end" fill="#231f20" stroke="#231f20" stroke-width="0.18" font-style="italic" transform="translate(397.50,507.20) scale(1,1.08)">TP53-</text>
<text x="0.00" y="0.00" font-size="7.8" text-anchor="end" fill="#231f20" stroke="#231f20" stroke-width="0.18" transform="translate(398.20,517.40) scale(1,1.08)">mutation:</text>
<text x="0.00" y="0.00" font-size="7.8" text-anchor="middle" fill="#231f20" stroke="#231f20" stroke-width="0.18" transform="translate(416.60,507.20) scale(1,1.08)">No</text>
<text x="0.00" y="0.00" font-size="7.8" text-anchor="middle" fill="#231f20" stroke="#231f20" stroke-width="0.18" transform="translate(416.40,517.40) scale(1,1.08)">Mutation</text>
<text x="0.00" y="0.00" font-size="7.8" text-anchor="middle" fill="#231f20" stroke="#231f20" stroke-width="0.18" transform="translate(451.00,517.20) scale(1,1.08)">Mutated</text>
<text x="0.00" y="0.00" font-size="7.8" text-anchor="start" fill="#231f20" stroke="#231f20" stroke-width="0.18" font-style="italic" transform="translate(472.30,517.00) scale(1,1.08)">t test</text>
<line x1="472.30" y1="518.30" x2="489.20" y2="518.30" stroke="#231f20" stroke-width="0.6"/>
<rect x="399.90" y="521.90" width="32.80" height="10.25" fill="#3b4ea4" stroke="none" stroke-width="1"/>
<rect x="433.80" y="521.90" width="32.80" height="10.25" fill="#e6242b" stroke="none" stroke-width="1"/>
<rect x="399.90" y="533.25" width="32.80" height="10.25" fill="#3b4ea4" stroke="none" stroke-width="1"/>
<rect x="433.80" y="533.25" width="32.80" height="10.25" fill="#e6242b" stroke="none" stroke-width="1"/>
<rect x="399.90" y="544.60" width="32.80" height="10.25" fill="#3b4ea4" stroke="none" stroke-width="1"/>
<rect x="433.80" y="544.60" width="32.80" height="10.25" fill="#e6242b" stroke="none" stroke-width="1"/>
<rect x="399.90" y="555.95" width="32.80" height="10.25" fill="#e6242b" stroke="none" stroke-width="1"/>
<rect x="433.80" y="555.95" width="32.80" height="10.25" fill="#3b4ea4" stroke="none" stroke-width="1"/>
<rect x="399.90" y="567.30" width="32.80" height="10.25" fill="#e6242b" stroke="none" stroke-width="1"/>
<rect x="433.80" y="567.30" width="32.80" height="10.25" fill="#3b4ea4" stroke="none" stroke-width="1"/>
<text x="0.00" y="0.00" font-size="8.2" text-anchor="end" fill="#231f20" stroke="#231f20" stroke-width="0.18" transform="translate(396.20,530.10) scale(1,1.08)">CAD</text>
<text x="0.00" y="0.00" font-size="8.2" text-anchor="end" fill="#231f20" stroke="#231f20" stroke-width="0.18" transform="translate(396.20,541.30) scale(1,1.08)">UMPS</text>
<text x="0.00" y="0.00" font-size="8.2" text-anchor="end" fill="#231f20" stroke="#231f20" stroke-width="0.18" transform="translate(396.20,552.50) scale(1,1.08)">RRM1</text>
<text x="0.00" y="0.00" font-size="8.2" text-anchor="end" fill="#231f20" stroke="#231f20" stroke-width="0.18" transform="translate(396.20,563.70) scale(1,1.08)">DHODH</text>
<text x="0.00" y="0.00" font-size="8.2" text-anchor="end" fill="#231f20" stroke="#231f20" stroke-width="0.18" transform="translate(396.20,574.90) scale(1,1.08)">RRM2B</text>
<text x="0.00" y="0.00" font-size="8.2" text-anchor="start" fill="#231f20" stroke="#231f20" stroke-width="0.18" transform="translate(469.50,530.20) scale(1,1.08)"><tspan font-style="italic">P</tspan> &lt; .0001</text>
<text x="0.00" y="0.00" font-size="8.2" text-anchor="start" fill="#231f20" stroke="#231f20" stroke-width="0.18" transform="translate(469.50,541.40) scale(1,1.08)"><tspan font-style="italic">P</tspan> &lt; .0001</text>
<text x="0.00" y="0.00" font-size="8.2" text-anchor="start" fill="#231f20" stroke="#231f20" stroke-width="0.18" transform="translate(469.50,552.60) scale(1,1.08)"><tspan font-style="italic">P</tspan> &lt; .0001</text>
<text x="0.00" y="0.00" font-size="8.2" text-anchor="start" fill="#231f20" stroke="#231f20" stroke-width="0.18" transform="translate(469.50,563.80) scale(1,1.08)"><tspan font-style="italic">P</tspan> = .2</text>
<text x="0.00" y="0.00" font-size="8.2" text-anchor="start" fill="#231f20" stroke="#231f20" stroke-width="0.18" transform="translate(469.50,575.00) scale(1,1.08)"><tspan font-style="italic">P</tspan> &lt; .0001</text>
<defs><linearGradient id="g3" x1="0" x2="1" y1="0" y2="0"><stop offset="0" stop-color="#3b4ea4"/><stop offset="0.5" stop-color="#ffffff"/><stop offset="1" stop-color="#e6242b"/></linearGradient></defs>
<rect x="399.90" y="581.20" width="65.10" height="3.30" fill="url(#g3)" stroke="none" stroke-width="1"/>
<text x="0.00" y="0.00" font-size="8.0" text-anchor="middle" fill="#231f20" stroke="#231f20" stroke-width="0.18" transform="translate(403.00,591.60) scale(1,1.08)">Row min</text>
<text x="0.00" y="0.00" font-size="8.0" text-anchor="middle" fill="#231f20" stroke="#231f20" stroke-width="0.18" transform="translate(459.40,591.60) scale(1,1.08)">Row max</text>
<rect x="0.5" y="0.5" width="519" height="600" fill="none" stroke="#3a3a3a" stroke-width="1.2"/>
</svg></body></html>
